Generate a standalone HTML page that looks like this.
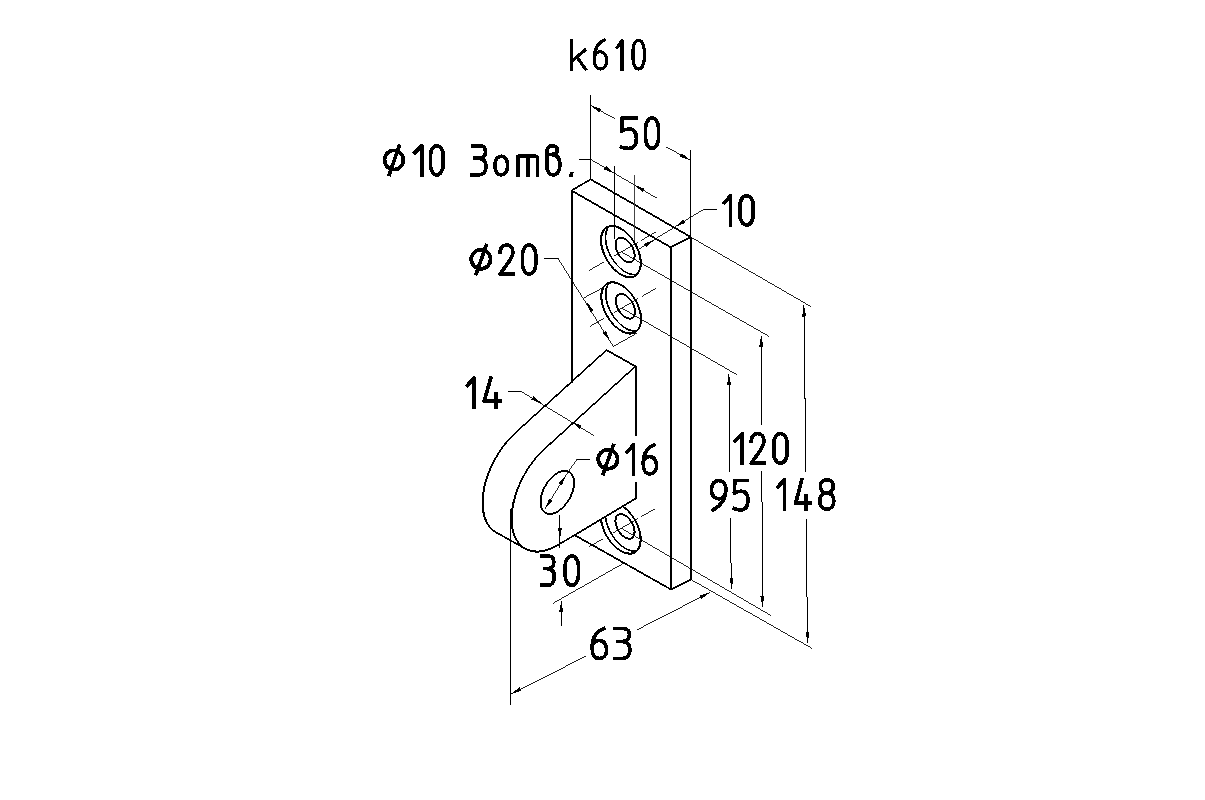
<!DOCTYPE html>
<html><head><meta charset="utf-8"><style>
html,body{margin:0;padding:0;background:#fff;width:1205px;height:800px;overflow:hidden}
svg{display:block}
</style></head><body>
<svg width="1205" height="800" viewBox="0 0 1205 800" shape-rendering="crispEdges">
<rect width="1205" height="800" fill="#fff"/>
<path d="M571.6,190.6 L590.6,179.3 L690.6,237" fill="none" stroke="#000" stroke-width="1.7" stroke-linejoin="round" stroke-linecap="round"/>
<path d="M690.6,237 L670.8,247.3" fill="none" stroke="#000" stroke-width="1.8" stroke-linejoin="round" stroke-linecap="round"/>
<path d="M670.8,247.3 L571.6,190.6" fill="none" stroke="#000" stroke-width="1.7" stroke-linejoin="round" stroke-linecap="round"/>
<path d="M571.6,190.6 L571.6,190.6" fill="none" stroke="#000" stroke-width="2.0" stroke-linejoin="round" stroke-linecap="round"/>
<line x1="571.6" y1="190.6" x2="571.6" y2="382.8" stroke="#000" stroke-width="2.00"/>
<line x1="670.9" y1="247.3" x2="671" y2="589.5" stroke="#000" stroke-width="2.00"/>
<line x1="690.6" y1="237" x2="690.8" y2="579.6" stroke="#000" stroke-width="2.00"/>
<path d="M575,535.3 L671,589.5" fill="none" stroke="#000" stroke-width="1.7" stroke-linejoin="round" stroke-linecap="round"/>
<path d="M671,589.5 L690.8,579.6" fill="none" stroke="#000" stroke-width="1.8" stroke-linejoin="round" stroke-linecap="round"/>
<clipPath id="c3"><path d="M540,555.9 L640,495.6 L700,495.6 L700,600 L540,600 Z"/></clipPath>
<g>
<path d="M640.73,263.05 L640.7,261.84 L640.62,260.59 L640.49,259.33 L640.3,258.04 L640.06,256.73" fill="none" stroke="#000" stroke-width="2.1" stroke-linejoin="round" stroke-linecap="round"/>
<path d="M640.06,256.73 L639.76,255.41 L639.41,254.08 L639.02,252.75 L638.57,251.41 L638.07,250.07" fill="none" stroke="#000" stroke-width="2.0" stroke-linejoin="round" stroke-linecap="round"/>
<path d="M638.07,250.07 L637.53,248.73 L636.94,247.4 L636.31,246.09 L635.64,244.79" fill="none" stroke="#000" stroke-width="1.9" stroke-linejoin="round" stroke-linecap="round"/>
<path d="M635.64,244.79 L634.92,243.5 L634.17,242.24 L633.38,241.01" fill="none" stroke="#000" stroke-width="1.8" stroke-linejoin="round" stroke-linecap="round"/>
<path d="M633.38,241.01 L632.56,239.8 L631.7,238.63 L630.82,237.49" fill="none" stroke="#000" stroke-width="1.7" stroke-linejoin="round" stroke-linecap="round"/>
<path d="M630.82,237.49 L629.9,236.39 L628.97,235.34" fill="none" stroke="#000" stroke-width="1.6" stroke-linejoin="round" stroke-linecap="round"/>
<path d="M628.97,235.34 L628.01,234.32 L627.03,233.36 L626.03,232.44" fill="none" stroke="#000" stroke-width="1.5" stroke-linejoin="round" stroke-linecap="round"/>
<path d="M626.03,232.44 L625.02,231.58 L624,230.77" fill="none" stroke="#000" stroke-width="1.6" stroke-linejoin="round" stroke-linecap="round"/>
<path d="M624,230.77 L622.97,230.02 L621.94,229.33" fill="none" stroke="#000" stroke-width="1.7" stroke-linejoin="round" stroke-linecap="round"/>
<path d="M621.94,229.33 L620.9,228.7 L619.86,228.13" fill="none" stroke="#000" stroke-width="1.8" stroke-linejoin="round" stroke-linecap="round"/>
<path d="M619.86,228.13 L618.83,227.63 L617.8,227.19" fill="none" stroke="#000" stroke-width="1.9" stroke-linejoin="round" stroke-linecap="round"/>
<path d="M617.8,227.19 L616.78,226.82 L615.77,226.52 L614.77,226.28" fill="none" stroke="#000" stroke-width="2.0" stroke-linejoin="round" stroke-linecap="round"/>
<path d="M614.77,226.28 L613.79,226.12 L612.83,226.02 L611.9,226 L610.98,226.04 L610.1,226.16 L609.24,226.34" fill="none" stroke="#000" stroke-width="2.1" stroke-linejoin="round" stroke-linecap="round"/>
<path d="M609.24,226.34 L608.42,226.6" fill="none" stroke="#000" stroke-width="2.0" stroke-linejoin="round" stroke-linecap="round"/>
<path d="M608.42,226.6 L607.63,226.92 L606.88,227.31" fill="none" stroke="#000" stroke-width="1.9" stroke-linejoin="round" stroke-linecap="round"/>
<path d="M606.88,227.31 L606.16,227.77" fill="none" stroke="#000" stroke-width="1.8" stroke-linejoin="round" stroke-linecap="round"/>
<path d="M606.16,227.77 L605.49,228.29" fill="none" stroke="#000" stroke-width="1.7" stroke-linejoin="round" stroke-linecap="round"/>
<path d="M605.49,228.29 L604.86,228.88" fill="none" stroke="#000" stroke-width="1.5" stroke-linejoin="round" stroke-linecap="round"/>
<path d="M604.86,228.88 L604.27,229.52" fill="none" stroke="#000" stroke-width="1.6" stroke-linejoin="round" stroke-linecap="round"/>
<path d="M604.27,229.52 L603.73,230.23" fill="none" stroke="#000" stroke-width="1.7" stroke-linejoin="round" stroke-linecap="round"/>
<path d="M603.73,230.23 L603.23,231 L602.78,231.83" fill="none" stroke="#000" stroke-width="1.8" stroke-linejoin="round" stroke-linecap="round"/>
<path d="M602.78,231.83 L602.39,232.7" fill="none" stroke="#000" stroke-width="1.9" stroke-linejoin="round" stroke-linecap="round"/>
<path d="M602.39,232.7 L602.04,233.63 L601.74,234.61 L601.5,235.64" fill="none" stroke="#000" stroke-width="2.0" stroke-linejoin="round" stroke-linecap="round"/>
<path d="M601.5,235.64 L601.31,236.71 L601.18,237.82 L601.1,238.97 L601.07,240.15 L601.1,241.36 L601.18,242.61 L601.31,243.87 L601.5,245.16 L601.74,246.47" fill="none" stroke="#000" stroke-width="2.1" stroke-linejoin="round" stroke-linecap="round"/>
<path d="M601.74,246.47 L602.04,247.79 L602.39,249.12 L602.78,250.45 L603.23,251.79 L603.73,253.13" fill="none" stroke="#000" stroke-width="2.0" stroke-linejoin="round" stroke-linecap="round"/>
<path d="M603.73,253.13 L604.27,254.47 L604.86,255.8 L605.49,257.11 L606.16,258.41" fill="none" stroke="#000" stroke-width="1.9" stroke-linejoin="round" stroke-linecap="round"/>
<path d="M606.16,258.41 L606.88,259.7 L607.63,260.96 L608.42,262.19" fill="none" stroke="#000" stroke-width="1.8" stroke-linejoin="round" stroke-linecap="round"/>
<path d="M608.42,262.19 L609.24,263.4 L610.1,264.57 L610.98,265.71" fill="none" stroke="#000" stroke-width="1.7" stroke-linejoin="round" stroke-linecap="round"/>
<path d="M610.98,265.71 L611.9,266.81 L612.83,267.86" fill="none" stroke="#000" stroke-width="1.6" stroke-linejoin="round" stroke-linecap="round"/>
<path d="M612.83,267.86 L613.79,268.88 L614.77,269.84 L615.77,270.76" fill="none" stroke="#000" stroke-width="1.5" stroke-linejoin="round" stroke-linecap="round"/>
<path d="M615.77,270.76 L616.78,271.62 L617.8,272.43" fill="none" stroke="#000" stroke-width="1.6" stroke-linejoin="round" stroke-linecap="round"/>
<path d="M617.8,272.43 L618.83,273.18 L619.86,273.87" fill="none" stroke="#000" stroke-width="1.7" stroke-linejoin="round" stroke-linecap="round"/>
<path d="M619.86,273.87 L620.9,274.5 L621.94,275.07" fill="none" stroke="#000" stroke-width="1.8" stroke-linejoin="round" stroke-linecap="round"/>
<path d="M621.94,275.07 L622.97,275.57 L624,276.01" fill="none" stroke="#000" stroke-width="1.9" stroke-linejoin="round" stroke-linecap="round"/>
<path d="M624,276.01 L625.02,276.38 L626.03,276.68 L627.03,276.92" fill="none" stroke="#000" stroke-width="2.0" stroke-linejoin="round" stroke-linecap="round"/>
<path d="M627.03,276.92 L628.01,277.08 L628.97,277.18 L629.9,277.2 L630.82,277.16 L631.7,277.04 L632.56,276.86" fill="none" stroke="#000" stroke-width="2.1" stroke-linejoin="round" stroke-linecap="round"/>
<path d="M632.56,276.86 L633.38,276.6" fill="none" stroke="#000" stroke-width="2.0" stroke-linejoin="round" stroke-linecap="round"/>
<path d="M633.38,276.6 L634.17,276.28 L634.92,275.89" fill="none" stroke="#000" stroke-width="1.9" stroke-linejoin="round" stroke-linecap="round"/>
<path d="M634.92,275.89 L635.64,275.43" fill="none" stroke="#000" stroke-width="1.8" stroke-linejoin="round" stroke-linecap="round"/>
<path d="M635.64,275.43 L636.31,274.91" fill="none" stroke="#000" stroke-width="1.7" stroke-linejoin="round" stroke-linecap="round"/>
<path d="M636.31,274.91 L636.94,274.32" fill="none" stroke="#000" stroke-width="1.5" stroke-linejoin="round" stroke-linecap="round"/>
<path d="M636.94,274.32 L637.53,273.68" fill="none" stroke="#000" stroke-width="1.6" stroke-linejoin="round" stroke-linecap="round"/>
<path d="M637.53,273.68 L638.07,272.97" fill="none" stroke="#000" stroke-width="1.7" stroke-linejoin="round" stroke-linecap="round"/>
<path d="M638.07,272.97 L638.57,272.2 L639.02,271.37" fill="none" stroke="#000" stroke-width="1.8" stroke-linejoin="round" stroke-linecap="round"/>
<path d="M639.02,271.37 L639.41,270.5" fill="none" stroke="#000" stroke-width="1.9" stroke-linejoin="round" stroke-linecap="round"/>
<path d="M639.41,270.5 L639.76,269.57 L640.06,268.59 L640.3,267.56" fill="none" stroke="#000" stroke-width="2.0" stroke-linejoin="round" stroke-linecap="round"/>
<path d="M640.3,267.56 L640.49,266.49 L640.62,265.38 L640.7,264.23 L640.73,263.05 L640.73,263.05" fill="none" stroke="#000" stroke-width="2.1" stroke-linejoin="round" stroke-linecap="round"/>
<path d="M608.96,226.59 L608.67,226.92 L608.39,227.27" fill="none" stroke="#000" stroke-width="1.4" stroke-linejoin="round" stroke-linecap="round"/>
<path d="M608.39,227.27 L608.13,227.63 L607.87,228.01 L607.63,228.4" fill="none" stroke="#000" stroke-width="1.5" stroke-linejoin="round" stroke-linecap="round"/>
<path d="M607.63,228.4 L607.4,228.81 L607.18,229.23 L606.98,229.66" fill="none" stroke="#000" stroke-width="1.6" stroke-linejoin="round" stroke-linecap="round"/>
<path d="M606.98,229.66 L606.79,230.1 L606.61,230.56 L606.44,231.03 L606.29,231.52 L606.14,232.01 L606.02,232.52" fill="none" stroke="#000" stroke-width="1.7" stroke-linejoin="round" stroke-linecap="round"/>
<path d="M606.02,232.52 L605.9,233.04 L605.8,233.57 L605.71,234.11 L605.64,234.66 L605.58,235.22 L605.53,235.79 L605.5,236.37 L605.48,236.95 L605.47,237.55 L605.48,238.15 L605.5,238.76 L605.53,239.38 L605.58,240.01 L605.64,240.64 L605.71,241.27 L605.8,241.91 L605.9,242.56 L606.02,243.21 L606.14,243.87 L606.29,244.53 L606.44,245.19" fill="none" stroke="#000" stroke-width="1.8" stroke-linejoin="round" stroke-linecap="round"/>
<path d="M606.44,245.19 L606.61,245.85 L606.79,246.52 L606.98,247.19 L607.18,247.85 L607.4,248.52 L607.63,249.19 L607.87,249.86 L608.13,250.53 L608.39,251.2 L608.67,251.87 L608.96,252.53" fill="none" stroke="#000" stroke-width="1.7" stroke-linejoin="round" stroke-linecap="round"/>
<path d="M608.96,252.53 L609.26,253.2 L609.57,253.86 L609.89,254.51 L610.22,255.17 L610.56,255.81 L610.91,256.46 L611.28,257.1 L611.65,257.73" fill="none" stroke="#000" stroke-width="1.6" stroke-linejoin="round" stroke-linecap="round"/>
<path d="M611.65,257.73 L612.03,258.36 L612.42,258.98 L612.82,259.59 L613.23,260.2 L613.64,260.8 L614.07,261.39" fill="none" stroke="#000" stroke-width="1.5" stroke-linejoin="round" stroke-linecap="round"/>
<path d="M614.07,261.39 L614.5,261.97 L614.94,262.54 L615.38,263.11 L615.84,263.66 L616.3,264.21 L616.76,264.74" fill="none" stroke="#000" stroke-width="1.4" stroke-linejoin="round" stroke-linecap="round"/>
<path d="M616.76,264.74 L617.23,265.26 L617.71,265.78 L618.19,266.28 L618.68,266.76 L619.17,267.24 L619.67,267.7 L620.17,268.16" fill="none" stroke="#000" stroke-width="1.3" stroke-linejoin="round" stroke-linecap="round"/>
<path d="M620.17,268.16 L620.67,268.59 L621.18,269.02 L621.69,269.43 L622.2,269.83 L622.71,270.21" fill="none" stroke="#000" stroke-width="1.4" stroke-linejoin="round" stroke-linecap="round"/>
<path d="M622.71,270.21 L623.23,270.58 L623.74,270.93 L624.26,271.27 L624.78,271.59 L625.3,271.9" fill="none" stroke="#000" stroke-width="1.5" stroke-linejoin="round" stroke-linecap="round"/>
<path d="M625.3,271.9 L625.82,272.19 L626.34,272.47 L626.86,272.73 L627.37,272.97 L627.89,273.2" fill="none" stroke="#000" stroke-width="1.6" stroke-linejoin="round" stroke-linecap="round"/>
<path d="M627.89,273.2 L628.4,273.41 L628.91,273.6 L629.42,273.78 L629.93,273.94 L630.43,274.08 L630.93,274.21" fill="none" stroke="#000" stroke-width="1.7" stroke-linejoin="round" stroke-linecap="round"/>
<path d="M630.93,274.21 L631.43,274.32 L631.92,274.41 L632.41,274.48 L632.89,274.54 L633.37,274.58 L633.84,274.6 L634.3,274.6 L634.76,274.59 L635.22,274.56 L635.66,274.51 L636.1,274.44 L636.53,274.36 L636.96,274.26" fill="none" stroke="#000" stroke-width="1.8" stroke-linejoin="round" stroke-linecap="round"/>
</g>
<path d="M634.63,255.5 L634.61,254.92 L634.57,254.32 L634.51,253.71 L634.42,253.09 L634.3,252.47 L634.16,251.83" fill="none" stroke="#000" stroke-width="2.0" stroke-linejoin="round" stroke-linecap="round"/>
<path d="M634.16,251.83 L633.99,251.19 L633.8,250.55 L633.59,249.91 L633.35,249.26 L633.09,248.62" fill="none" stroke="#000" stroke-width="1.9" stroke-linejoin="round" stroke-linecap="round"/>
<path d="M633.09,248.62 L632.81,247.98 L632.5,247.35 L632.18,246.73" fill="none" stroke="#000" stroke-width="1.8" stroke-linejoin="round" stroke-linecap="round"/>
<path d="M632.18,246.73 L631.84,246.11 L631.47,245.51 L631.09,244.91 L630.7,244.33" fill="none" stroke="#000" stroke-width="1.7" stroke-linejoin="round" stroke-linecap="round"/>
<path d="M630.7,244.33 L630.29,243.77 L629.86,243.22" fill="none" stroke="#000" stroke-width="1.6" stroke-linejoin="round" stroke-linecap="round"/>
<path d="M629.86,243.22 L629.42,242.7 L628.97,242.19 L628.51,241.7" fill="none" stroke="#000" stroke-width="1.5" stroke-linejoin="round" stroke-linecap="round"/>
<path d="M628.51,241.7 L628.04,241.24" fill="none" stroke="#000" stroke-width="1.4" stroke-linejoin="round" stroke-linecap="round"/>
<path d="M628.04,241.24 L627.57,240.8 L627.08,240.38" fill="none" stroke="#000" stroke-width="1.5" stroke-linejoin="round" stroke-linecap="round"/>
<path d="M627.08,240.38 L626.59,240 L626.1,239.64" fill="none" stroke="#000" stroke-width="1.6" stroke-linejoin="round" stroke-linecap="round"/>
<path d="M626.1,239.64 L625.6,239.3 L625.1,239" fill="none" stroke="#000" stroke-width="1.7" stroke-linejoin="round" stroke-linecap="round"/>
<path d="M625.1,239 L624.6,238.73 L624.1,238.49 L623.61,238.28" fill="none" stroke="#000" stroke-width="1.8" stroke-linejoin="round" stroke-linecap="round"/>
<path d="M623.61,238.28 L623.12,238.1 L622.63,237.95 L622.16,237.84" fill="none" stroke="#000" stroke-width="1.9" stroke-linejoin="round" stroke-linecap="round"/>
<path d="M622.16,237.84 L621.69,237.76 L621.23,237.71 L620.78,237.7 L620.34,237.72 L619.91,237.78 L619.5,237.87" fill="none" stroke="#000" stroke-width="2.0" stroke-linejoin="round" stroke-linecap="round"/>
<path d="M619.5,237.87 L619.11,237.99 L618.73,238.15" fill="none" stroke="#000" stroke-width="1.9" stroke-linejoin="round" stroke-linecap="round"/>
<path d="M618.73,238.15 L618.36,238.33" fill="none" stroke="#000" stroke-width="1.8" stroke-linejoin="round" stroke-linecap="round"/>
<path d="M618.36,238.33 L618.02,238.55" fill="none" stroke="#000" stroke-width="1.7" stroke-linejoin="round" stroke-linecap="round"/>
<path d="M618.02,238.55 L617.7,238.8" fill="none" stroke="#000" stroke-width="1.6" stroke-linejoin="round" stroke-linecap="round"/>
<path d="M617.7,238.8 L617.39,239.08 L617.11,239.4" fill="none" stroke="#000" stroke-width="1.5" stroke-linejoin="round" stroke-linecap="round"/>
<path d="M617.11,239.4 L616.85,239.74" fill="none" stroke="#000" stroke-width="1.6" stroke-linejoin="round" stroke-linecap="round"/>
<path d="M616.85,239.74 L616.61,240.11" fill="none" stroke="#000" stroke-width="1.7" stroke-linejoin="round" stroke-linecap="round"/>
<path d="M616.61,240.11 L616.4,240.5 L616.21,240.92" fill="none" stroke="#000" stroke-width="1.8" stroke-linejoin="round" stroke-linecap="round"/>
<path d="M616.21,240.92 L616.04,241.37 L615.9,241.84 L615.78,242.33" fill="none" stroke="#000" stroke-width="1.9" stroke-linejoin="round" stroke-linecap="round"/>
<path d="M615.78,242.33 L615.69,242.85 L615.63,243.38 L615.59,243.93 L615.57,244.5 L615.59,245.08 L615.63,245.68 L615.69,246.29 L615.78,246.91 L615.9,247.53 L616.04,248.17" fill="none" stroke="#000" stroke-width="2.0" stroke-linejoin="round" stroke-linecap="round"/>
<path d="M616.04,248.17 L616.21,248.81 L616.4,249.45 L616.61,250.09 L616.85,250.74 L617.11,251.38" fill="none" stroke="#000" stroke-width="1.9" stroke-linejoin="round" stroke-linecap="round"/>
<path d="M617.11,251.38 L617.39,252.02 L617.7,252.65 L618.02,253.27" fill="none" stroke="#000" stroke-width="1.8" stroke-linejoin="round" stroke-linecap="round"/>
<path d="M618.02,253.27 L618.36,253.89 L618.73,254.49 L619.11,255.09 L619.5,255.67" fill="none" stroke="#000" stroke-width="1.7" stroke-linejoin="round" stroke-linecap="round"/>
<path d="M619.5,255.67 L619.91,256.23 L620.34,256.78" fill="none" stroke="#000" stroke-width="1.6" stroke-linejoin="round" stroke-linecap="round"/>
<path d="M620.34,256.78 L620.78,257.3 L621.23,257.81 L621.69,258.3" fill="none" stroke="#000" stroke-width="1.5" stroke-linejoin="round" stroke-linecap="round"/>
<path d="M621.69,258.3 L622.16,258.76" fill="none" stroke="#000" stroke-width="1.4" stroke-linejoin="round" stroke-linecap="round"/>
<path d="M622.16,258.76 L622.63,259.2 L623.12,259.62" fill="none" stroke="#000" stroke-width="1.5" stroke-linejoin="round" stroke-linecap="round"/>
<path d="M623.12,259.62 L623.61,260 L624.1,260.36" fill="none" stroke="#000" stroke-width="1.6" stroke-linejoin="round" stroke-linecap="round"/>
<path d="M624.1,260.36 L624.6,260.7 L625.1,261" fill="none" stroke="#000" stroke-width="1.7" stroke-linejoin="round" stroke-linecap="round"/>
<path d="M625.1,261 L625.6,261.27 L626.1,261.51 L626.59,261.72" fill="none" stroke="#000" stroke-width="1.8" stroke-linejoin="round" stroke-linecap="round"/>
<path d="M626.59,261.72 L627.08,261.9 L627.57,262.05 L628.04,262.16" fill="none" stroke="#000" stroke-width="1.9" stroke-linejoin="round" stroke-linecap="round"/>
<path d="M628.04,262.16 L628.51,262.24 L628.97,262.29 L629.42,262.3 L629.86,262.28 L630.29,262.22 L630.7,262.13" fill="none" stroke="#000" stroke-width="2.0" stroke-linejoin="round" stroke-linecap="round"/>
<path d="M630.7,262.13 L631.09,262.01 L631.47,261.85" fill="none" stroke="#000" stroke-width="1.9" stroke-linejoin="round" stroke-linecap="round"/>
<path d="M631.47,261.85 L631.84,261.67" fill="none" stroke="#000" stroke-width="1.8" stroke-linejoin="round" stroke-linecap="round"/>
<path d="M631.84,261.67 L632.18,261.45" fill="none" stroke="#000" stroke-width="1.7" stroke-linejoin="round" stroke-linecap="round"/>
<path d="M632.18,261.45 L632.5,261.2" fill="none" stroke="#000" stroke-width="1.6" stroke-linejoin="round" stroke-linecap="round"/>
<path d="M632.5,261.2 L632.81,260.92 L633.09,260.6" fill="none" stroke="#000" stroke-width="1.5" stroke-linejoin="round" stroke-linecap="round"/>
<path d="M633.09,260.6 L633.35,260.26" fill="none" stroke="#000" stroke-width="1.6" stroke-linejoin="round" stroke-linecap="round"/>
<path d="M633.35,260.26 L633.59,259.89" fill="none" stroke="#000" stroke-width="1.7" stroke-linejoin="round" stroke-linecap="round"/>
<path d="M633.59,259.89 L633.8,259.5 L633.99,259.08" fill="none" stroke="#000" stroke-width="1.8" stroke-linejoin="round" stroke-linecap="round"/>
<path d="M633.99,259.08 L634.16,258.63 L634.3,258.16 L634.42,257.67" fill="none" stroke="#000" stroke-width="1.9" stroke-linejoin="round" stroke-linecap="round"/>
<path d="M634.42,257.67 L634.51,257.15 L634.57,256.62 L634.61,256.07 L634.63,255.5 L634.63,255.5" fill="none" stroke="#000" stroke-width="2.0" stroke-linejoin="round" stroke-linecap="round"/>
<line x1="589.29" y1="270.35" x2="603.58" y2="262.1" stroke="#000" stroke-width="0.87"/>
<line x1="613.54" y1="256.35" x2="637.79" y2="242.35" stroke="#000" stroke-width="0.87"/>
<line x1="641.25" y1="240.35" x2="655.54" y2="232.1" stroke="#000" stroke-width="0.87"/>
<g>
<path d="M641.03,319.35 L641,318.14 L640.92,316.89 L640.79,315.63 L640.6,314.34 L640.36,313.03" fill="none" stroke="#000" stroke-width="2.1" stroke-linejoin="round" stroke-linecap="round"/>
<path d="M640.36,313.03 L640.06,311.71 L639.71,310.38 L639.32,309.05 L638.87,307.71 L638.37,306.37" fill="none" stroke="#000" stroke-width="2.0" stroke-linejoin="round" stroke-linecap="round"/>
<path d="M638.37,306.37 L637.83,305.03 L637.24,303.7 L636.61,302.39 L635.94,301.09" fill="none" stroke="#000" stroke-width="1.9" stroke-linejoin="round" stroke-linecap="round"/>
<path d="M635.94,301.09 L635.22,299.8 L634.47,298.54 L633.68,297.31" fill="none" stroke="#000" stroke-width="1.8" stroke-linejoin="round" stroke-linecap="round"/>
<path d="M633.68,297.31 L632.86,296.1 L632,294.93 L631.12,293.79" fill="none" stroke="#000" stroke-width="1.7" stroke-linejoin="round" stroke-linecap="round"/>
<path d="M631.12,293.79 L630.2,292.69 L629.27,291.64" fill="none" stroke="#000" stroke-width="1.6" stroke-linejoin="round" stroke-linecap="round"/>
<path d="M629.27,291.64 L628.31,290.62 L627.33,289.66 L626.33,288.74" fill="none" stroke="#000" stroke-width="1.5" stroke-linejoin="round" stroke-linecap="round"/>
<path d="M626.33,288.74 L625.32,287.88 L624.3,287.07" fill="none" stroke="#000" stroke-width="1.6" stroke-linejoin="round" stroke-linecap="round"/>
<path d="M624.3,287.07 L623.27,286.32 L622.24,285.63" fill="none" stroke="#000" stroke-width="1.7" stroke-linejoin="round" stroke-linecap="round"/>
<path d="M622.24,285.63 L621.2,285 L620.16,284.43" fill="none" stroke="#000" stroke-width="1.8" stroke-linejoin="round" stroke-linecap="round"/>
<path d="M620.16,284.43 L619.13,283.93 L618.1,283.49" fill="none" stroke="#000" stroke-width="1.9" stroke-linejoin="round" stroke-linecap="round"/>
<path d="M618.1,283.49 L617.08,283.12 L616.07,282.82 L615.07,282.58" fill="none" stroke="#000" stroke-width="2.0" stroke-linejoin="round" stroke-linecap="round"/>
<path d="M615.07,282.58 L614.09,282.42 L613.13,282.32 L612.2,282.3 L611.28,282.34 L610.4,282.46 L609.54,282.64" fill="none" stroke="#000" stroke-width="2.1" stroke-linejoin="round" stroke-linecap="round"/>
<path d="M609.54,282.64 L608.72,282.9" fill="none" stroke="#000" stroke-width="2.0" stroke-linejoin="round" stroke-linecap="round"/>
<path d="M608.72,282.9 L607.93,283.22 L607.18,283.61" fill="none" stroke="#000" stroke-width="1.9" stroke-linejoin="round" stroke-linecap="round"/>
<path d="M607.18,283.61 L606.46,284.07" fill="none" stroke="#000" stroke-width="1.8" stroke-linejoin="round" stroke-linecap="round"/>
<path d="M606.46,284.07 L605.79,284.59" fill="none" stroke="#000" stroke-width="1.7" stroke-linejoin="round" stroke-linecap="round"/>
<path d="M605.79,284.59 L605.16,285.18" fill="none" stroke="#000" stroke-width="1.5" stroke-linejoin="round" stroke-linecap="round"/>
<path d="M605.16,285.18 L604.57,285.82" fill="none" stroke="#000" stroke-width="1.6" stroke-linejoin="round" stroke-linecap="round"/>
<path d="M604.57,285.82 L604.03,286.53" fill="none" stroke="#000" stroke-width="1.7" stroke-linejoin="round" stroke-linecap="round"/>
<path d="M604.03,286.53 L603.53,287.3 L603.08,288.13" fill="none" stroke="#000" stroke-width="1.8" stroke-linejoin="round" stroke-linecap="round"/>
<path d="M603.08,288.13 L602.69,289" fill="none" stroke="#000" stroke-width="1.9" stroke-linejoin="round" stroke-linecap="round"/>
<path d="M602.69,289 L602.34,289.93 L602.04,290.91 L601.8,291.94" fill="none" stroke="#000" stroke-width="2.0" stroke-linejoin="round" stroke-linecap="round"/>
<path d="M601.8,291.94 L601.61,293.01 L601.48,294.12 L601.4,295.27 L601.37,296.45 L601.4,297.66 L601.48,298.91 L601.61,300.17 L601.8,301.46 L602.04,302.77" fill="none" stroke="#000" stroke-width="2.1" stroke-linejoin="round" stroke-linecap="round"/>
<path d="M602.04,302.77 L602.34,304.09 L602.69,305.42 L603.08,306.75 L603.53,308.09 L604.03,309.43" fill="none" stroke="#000" stroke-width="2.0" stroke-linejoin="round" stroke-linecap="round"/>
<path d="M604.03,309.43 L604.57,310.77 L605.16,312.1 L605.79,313.41 L606.46,314.71" fill="none" stroke="#000" stroke-width="1.9" stroke-linejoin="round" stroke-linecap="round"/>
<path d="M606.46,314.71 L607.18,316 L607.93,317.26 L608.72,318.49" fill="none" stroke="#000" stroke-width="1.8" stroke-linejoin="round" stroke-linecap="round"/>
<path d="M608.72,318.49 L609.54,319.7 L610.4,320.87 L611.28,322.01" fill="none" stroke="#000" stroke-width="1.7" stroke-linejoin="round" stroke-linecap="round"/>
<path d="M611.28,322.01 L612.2,323.11 L613.13,324.16" fill="none" stroke="#000" stroke-width="1.6" stroke-linejoin="round" stroke-linecap="round"/>
<path d="M613.13,324.16 L614.09,325.18 L615.07,326.14 L616.07,327.06" fill="none" stroke="#000" stroke-width="1.5" stroke-linejoin="round" stroke-linecap="round"/>
<path d="M616.07,327.06 L617.08,327.92 L618.1,328.73" fill="none" stroke="#000" stroke-width="1.6" stroke-linejoin="round" stroke-linecap="round"/>
<path d="M618.1,328.73 L619.13,329.48 L620.16,330.17" fill="none" stroke="#000" stroke-width="1.7" stroke-linejoin="round" stroke-linecap="round"/>
<path d="M620.16,330.17 L621.2,330.8 L622.24,331.37" fill="none" stroke="#000" stroke-width="1.8" stroke-linejoin="round" stroke-linecap="round"/>
<path d="M622.24,331.37 L623.27,331.87 L624.3,332.31" fill="none" stroke="#000" stroke-width="1.9" stroke-linejoin="round" stroke-linecap="round"/>
<path d="M624.3,332.31 L625.32,332.68 L626.33,332.98 L627.33,333.22" fill="none" stroke="#000" stroke-width="2.0" stroke-linejoin="round" stroke-linecap="round"/>
<path d="M627.33,333.22 L628.31,333.38 L629.27,333.48 L630.2,333.5 L631.12,333.46 L632,333.34 L632.86,333.16" fill="none" stroke="#000" stroke-width="2.1" stroke-linejoin="round" stroke-linecap="round"/>
<path d="M632.86,333.16 L633.68,332.9" fill="none" stroke="#000" stroke-width="2.0" stroke-linejoin="round" stroke-linecap="round"/>
<path d="M633.68,332.9 L634.47,332.58 L635.22,332.19" fill="none" stroke="#000" stroke-width="1.9" stroke-linejoin="round" stroke-linecap="round"/>
<path d="M635.22,332.19 L635.94,331.73" fill="none" stroke="#000" stroke-width="1.8" stroke-linejoin="round" stroke-linecap="round"/>
<path d="M635.94,331.73 L636.61,331.21" fill="none" stroke="#000" stroke-width="1.7" stroke-linejoin="round" stroke-linecap="round"/>
<path d="M636.61,331.21 L637.24,330.62" fill="none" stroke="#000" stroke-width="1.5" stroke-linejoin="round" stroke-linecap="round"/>
<path d="M637.24,330.62 L637.83,329.98" fill="none" stroke="#000" stroke-width="1.6" stroke-linejoin="round" stroke-linecap="round"/>
<path d="M637.83,329.98 L638.37,329.27" fill="none" stroke="#000" stroke-width="1.7" stroke-linejoin="round" stroke-linecap="round"/>
<path d="M638.37,329.27 L638.87,328.5 L639.32,327.67" fill="none" stroke="#000" stroke-width="1.8" stroke-linejoin="round" stroke-linecap="round"/>
<path d="M639.32,327.67 L639.71,326.8" fill="none" stroke="#000" stroke-width="1.9" stroke-linejoin="round" stroke-linecap="round"/>
<path d="M639.71,326.8 L640.06,325.87 L640.36,324.89 L640.6,323.86" fill="none" stroke="#000" stroke-width="2.0" stroke-linejoin="round" stroke-linecap="round"/>
<path d="M640.6,323.86 L640.79,322.79 L640.92,321.68 L641,320.53 L641.03,319.35 L641.03,319.35" fill="none" stroke="#000" stroke-width="2.1" stroke-linejoin="round" stroke-linecap="round"/>
<path d="M609.26,282.89 L608.97,283.22 L608.69,283.57" fill="none" stroke="#000" stroke-width="1.4" stroke-linejoin="round" stroke-linecap="round"/>
<path d="M608.69,283.57 L608.43,283.93 L608.17,284.31 L607.93,284.7" fill="none" stroke="#000" stroke-width="1.5" stroke-linejoin="round" stroke-linecap="round"/>
<path d="M607.93,284.7 L607.7,285.11 L607.48,285.53 L607.28,285.96" fill="none" stroke="#000" stroke-width="1.6" stroke-linejoin="round" stroke-linecap="round"/>
<path d="M607.28,285.96 L607.09,286.4 L606.91,286.86 L606.74,287.33 L606.59,287.82 L606.44,288.31 L606.32,288.82" fill="none" stroke="#000" stroke-width="1.7" stroke-linejoin="round" stroke-linecap="round"/>
<path d="M606.32,288.82 L606.2,289.34 L606.1,289.87 L606.01,290.41 L605.94,290.96 L605.88,291.52 L605.83,292.09 L605.8,292.67 L605.78,293.25 L605.77,293.85 L605.78,294.45 L605.8,295.06 L605.83,295.68 L605.88,296.31 L605.94,296.94 L606.01,297.57 L606.1,298.21 L606.2,298.86 L606.32,299.51 L606.44,300.17 L606.59,300.83 L606.74,301.49" fill="none" stroke="#000" stroke-width="1.8" stroke-linejoin="round" stroke-linecap="round"/>
<path d="M606.74,301.49 L606.91,302.15 L607.09,302.82 L607.28,303.49 L607.48,304.15 L607.7,304.82 L607.93,305.49 L608.17,306.16 L608.43,306.83 L608.69,307.5 L608.97,308.17 L609.26,308.83" fill="none" stroke="#000" stroke-width="1.7" stroke-linejoin="round" stroke-linecap="round"/>
<path d="M609.26,308.83 L609.56,309.5 L609.87,310.16 L610.19,310.81 L610.52,311.47 L610.86,312.11 L611.21,312.76 L611.58,313.4 L611.95,314.03" fill="none" stroke="#000" stroke-width="1.6" stroke-linejoin="round" stroke-linecap="round"/>
<path d="M611.95,314.03 L612.33,314.66 L612.72,315.28 L613.12,315.89 L613.53,316.5 L613.94,317.1 L614.37,317.69" fill="none" stroke="#000" stroke-width="1.5" stroke-linejoin="round" stroke-linecap="round"/>
<path d="M614.37,317.69 L614.8,318.27 L615.24,318.84 L615.68,319.41 L616.14,319.96 L616.6,320.51 L617.06,321.04" fill="none" stroke="#000" stroke-width="1.4" stroke-linejoin="round" stroke-linecap="round"/>
<path d="M617.06,321.04 L617.53,321.56 L618.01,322.08 L618.49,322.58 L618.98,323.06 L619.47,323.54 L619.97,324 L620.47,324.46" fill="none" stroke="#000" stroke-width="1.3" stroke-linejoin="round" stroke-linecap="round"/>
<path d="M620.47,324.46 L620.97,324.89 L621.48,325.32 L621.99,325.73 L622.5,326.13 L623.01,326.51" fill="none" stroke="#000" stroke-width="1.4" stroke-linejoin="round" stroke-linecap="round"/>
<path d="M623.01,326.51 L623.53,326.88 L624.04,327.23 L624.56,327.57 L625.08,327.89 L625.6,328.2" fill="none" stroke="#000" stroke-width="1.5" stroke-linejoin="round" stroke-linecap="round"/>
<path d="M625.6,328.2 L626.12,328.49 L626.64,328.77 L627.16,329.03 L627.67,329.27 L628.19,329.5" fill="none" stroke="#000" stroke-width="1.6" stroke-linejoin="round" stroke-linecap="round"/>
<path d="M628.19,329.5 L628.7,329.71 L629.21,329.9 L629.72,330.08 L630.23,330.24 L630.73,330.38 L631.23,330.51" fill="none" stroke="#000" stroke-width="1.7" stroke-linejoin="round" stroke-linecap="round"/>
<path d="M631.23,330.51 L631.73,330.62 L632.22,330.71 L632.71,330.78 L633.19,330.84 L633.67,330.88 L634.14,330.9 L634.6,330.9 L635.06,330.89 L635.52,330.86 L635.96,330.81 L636.4,330.74 L636.83,330.66 L637.26,330.56" fill="none" stroke="#000" stroke-width="1.8" stroke-linejoin="round" stroke-linecap="round"/>
</g>
<path d="M634.93,311.8 L634.91,311.22 L634.87,310.62 L634.81,310.01 L634.72,309.39 L634.6,308.77 L634.46,308.13" fill="none" stroke="#000" stroke-width="2.0" stroke-linejoin="round" stroke-linecap="round"/>
<path d="M634.46,308.13 L634.29,307.49 L634.1,306.85 L633.89,306.21 L633.65,305.56 L633.39,304.92" fill="none" stroke="#000" stroke-width="1.9" stroke-linejoin="round" stroke-linecap="round"/>
<path d="M633.39,304.92 L633.11,304.28 L632.8,303.65 L632.48,303.03" fill="none" stroke="#000" stroke-width="1.8" stroke-linejoin="round" stroke-linecap="round"/>
<path d="M632.48,303.03 L632.14,302.41 L631.77,301.81 L631.39,301.21 L631,300.63" fill="none" stroke="#000" stroke-width="1.7" stroke-linejoin="round" stroke-linecap="round"/>
<path d="M631,300.63 L630.59,300.07 L630.16,299.52" fill="none" stroke="#000" stroke-width="1.6" stroke-linejoin="round" stroke-linecap="round"/>
<path d="M630.16,299.52 L629.72,299 L629.27,298.49 L628.81,298" fill="none" stroke="#000" stroke-width="1.5" stroke-linejoin="round" stroke-linecap="round"/>
<path d="M628.81,298 L628.34,297.54" fill="none" stroke="#000" stroke-width="1.4" stroke-linejoin="round" stroke-linecap="round"/>
<path d="M628.34,297.54 L627.87,297.1 L627.38,296.68" fill="none" stroke="#000" stroke-width="1.5" stroke-linejoin="round" stroke-linecap="round"/>
<path d="M627.38,296.68 L626.89,296.3 L626.4,295.94" fill="none" stroke="#000" stroke-width="1.6" stroke-linejoin="round" stroke-linecap="round"/>
<path d="M626.4,295.94 L625.9,295.6 L625.4,295.3" fill="none" stroke="#000" stroke-width="1.7" stroke-linejoin="round" stroke-linecap="round"/>
<path d="M625.4,295.3 L624.9,295.03 L624.4,294.79 L623.91,294.58" fill="none" stroke="#000" stroke-width="1.8" stroke-linejoin="round" stroke-linecap="round"/>
<path d="M623.91,294.58 L623.42,294.4 L622.93,294.25 L622.46,294.14" fill="none" stroke="#000" stroke-width="1.9" stroke-linejoin="round" stroke-linecap="round"/>
<path d="M622.46,294.14 L621.99,294.06 L621.53,294.01 L621.08,294 L620.64,294.02 L620.21,294.08 L619.8,294.17" fill="none" stroke="#000" stroke-width="2.0" stroke-linejoin="round" stroke-linecap="round"/>
<path d="M619.8,294.17 L619.41,294.29 L619.03,294.45" fill="none" stroke="#000" stroke-width="1.9" stroke-linejoin="round" stroke-linecap="round"/>
<path d="M619.03,294.45 L618.66,294.63" fill="none" stroke="#000" stroke-width="1.8" stroke-linejoin="round" stroke-linecap="round"/>
<path d="M618.66,294.63 L618.32,294.85" fill="none" stroke="#000" stroke-width="1.7" stroke-linejoin="round" stroke-linecap="round"/>
<path d="M618.32,294.85 L618,295.1" fill="none" stroke="#000" stroke-width="1.6" stroke-linejoin="round" stroke-linecap="round"/>
<path d="M618,295.1 L617.69,295.38 L617.41,295.7" fill="none" stroke="#000" stroke-width="1.5" stroke-linejoin="round" stroke-linecap="round"/>
<path d="M617.41,295.7 L617.15,296.04" fill="none" stroke="#000" stroke-width="1.6" stroke-linejoin="round" stroke-linecap="round"/>
<path d="M617.15,296.04 L616.91,296.41" fill="none" stroke="#000" stroke-width="1.7" stroke-linejoin="round" stroke-linecap="round"/>
<path d="M616.91,296.41 L616.7,296.8 L616.51,297.22" fill="none" stroke="#000" stroke-width="1.8" stroke-linejoin="round" stroke-linecap="round"/>
<path d="M616.51,297.22 L616.34,297.67 L616.2,298.14 L616.08,298.63" fill="none" stroke="#000" stroke-width="1.9" stroke-linejoin="round" stroke-linecap="round"/>
<path d="M616.08,298.63 L615.99,299.15 L615.93,299.68 L615.89,300.23 L615.87,300.8 L615.89,301.38 L615.93,301.98 L615.99,302.59 L616.08,303.21 L616.2,303.83 L616.34,304.47" fill="none" stroke="#000" stroke-width="2.0" stroke-linejoin="round" stroke-linecap="round"/>
<path d="M616.34,304.47 L616.51,305.11 L616.7,305.75 L616.91,306.39 L617.15,307.04 L617.41,307.68" fill="none" stroke="#000" stroke-width="1.9" stroke-linejoin="round" stroke-linecap="round"/>
<path d="M617.41,307.68 L617.69,308.32 L618,308.95 L618.32,309.57" fill="none" stroke="#000" stroke-width="1.8" stroke-linejoin="round" stroke-linecap="round"/>
<path d="M618.32,309.57 L618.66,310.19 L619.03,310.79 L619.41,311.39 L619.8,311.97" fill="none" stroke="#000" stroke-width="1.7" stroke-linejoin="round" stroke-linecap="round"/>
<path d="M619.8,311.97 L620.21,312.53 L620.64,313.08" fill="none" stroke="#000" stroke-width="1.6" stroke-linejoin="round" stroke-linecap="round"/>
<path d="M620.64,313.08 L621.08,313.6 L621.53,314.11 L621.99,314.6" fill="none" stroke="#000" stroke-width="1.5" stroke-linejoin="round" stroke-linecap="round"/>
<path d="M621.99,314.6 L622.46,315.06" fill="none" stroke="#000" stroke-width="1.4" stroke-linejoin="round" stroke-linecap="round"/>
<path d="M622.46,315.06 L622.93,315.5 L623.42,315.92" fill="none" stroke="#000" stroke-width="1.5" stroke-linejoin="round" stroke-linecap="round"/>
<path d="M623.42,315.92 L623.91,316.3 L624.4,316.66" fill="none" stroke="#000" stroke-width="1.6" stroke-linejoin="round" stroke-linecap="round"/>
<path d="M624.4,316.66 L624.9,317 L625.4,317.3" fill="none" stroke="#000" stroke-width="1.7" stroke-linejoin="round" stroke-linecap="round"/>
<path d="M625.4,317.3 L625.9,317.57 L626.4,317.81 L626.89,318.02" fill="none" stroke="#000" stroke-width="1.8" stroke-linejoin="round" stroke-linecap="round"/>
<path d="M626.89,318.02 L627.38,318.2 L627.87,318.35 L628.34,318.46" fill="none" stroke="#000" stroke-width="1.9" stroke-linejoin="round" stroke-linecap="round"/>
<path d="M628.34,318.46 L628.81,318.54 L629.27,318.59 L629.72,318.6 L630.16,318.58 L630.59,318.52 L631,318.43" fill="none" stroke="#000" stroke-width="2.0" stroke-linejoin="round" stroke-linecap="round"/>
<path d="M631,318.43 L631.39,318.31 L631.77,318.15" fill="none" stroke="#000" stroke-width="1.9" stroke-linejoin="round" stroke-linecap="round"/>
<path d="M631.77,318.15 L632.14,317.97" fill="none" stroke="#000" stroke-width="1.8" stroke-linejoin="round" stroke-linecap="round"/>
<path d="M632.14,317.97 L632.48,317.75" fill="none" stroke="#000" stroke-width="1.7" stroke-linejoin="round" stroke-linecap="round"/>
<path d="M632.48,317.75 L632.8,317.5" fill="none" stroke="#000" stroke-width="1.6" stroke-linejoin="round" stroke-linecap="round"/>
<path d="M632.8,317.5 L633.11,317.22 L633.39,316.9" fill="none" stroke="#000" stroke-width="1.5" stroke-linejoin="round" stroke-linecap="round"/>
<path d="M633.39,316.9 L633.65,316.56" fill="none" stroke="#000" stroke-width="1.6" stroke-linejoin="round" stroke-linecap="round"/>
<path d="M633.65,316.56 L633.89,316.19" fill="none" stroke="#000" stroke-width="1.7" stroke-linejoin="round" stroke-linecap="round"/>
<path d="M633.89,316.19 L634.1,315.8 L634.29,315.38" fill="none" stroke="#000" stroke-width="1.8" stroke-linejoin="round" stroke-linecap="round"/>
<path d="M634.29,315.38 L634.46,314.93 L634.6,314.46 L634.72,313.97" fill="none" stroke="#000" stroke-width="1.9" stroke-linejoin="round" stroke-linecap="round"/>
<path d="M634.72,313.97 L634.81,313.45 L634.87,312.92 L634.91,312.37 L634.93,311.8 L634.93,311.8" fill="none" stroke="#000" stroke-width="2.0" stroke-linejoin="round" stroke-linecap="round"/>
<line x1="589.59" y1="326.65" x2="603.88" y2="318.4" stroke="#000" stroke-width="0.87"/>
<line x1="613.84" y1="312.65" x2="638.09" y2="298.65" stroke="#000" stroke-width="0.87"/>
<line x1="641.55" y1="296.65" x2="655.84" y2="288.4" stroke="#000" stroke-width="0.87"/>
<g clip-path="url(#c3)">
<path d="M640.63,539.45 L640.6,538.24 L640.52,536.99 L640.39,535.73 L640.2,534.44 L639.96,533.13" fill="none" stroke="#000" stroke-width="2.1" stroke-linejoin="round" stroke-linecap="round"/>
<path d="M639.96,533.13 L639.66,531.81 L639.31,530.48 L638.92,529.15 L638.47,527.81 L637.97,526.47" fill="none" stroke="#000" stroke-width="2.0" stroke-linejoin="round" stroke-linecap="round"/>
<path d="M637.97,526.47 L637.43,525.13 L636.84,523.8 L636.21,522.49 L635.54,521.19" fill="none" stroke="#000" stroke-width="1.9" stroke-linejoin="round" stroke-linecap="round"/>
<path d="M635.54,521.19 L634.82,519.9 L634.07,518.64 L633.28,517.41" fill="none" stroke="#000" stroke-width="1.8" stroke-linejoin="round" stroke-linecap="round"/>
<path d="M633.28,517.41 L632.46,516.2 L631.6,515.03 L630.72,513.89" fill="none" stroke="#000" stroke-width="1.7" stroke-linejoin="round" stroke-linecap="round"/>
<path d="M630.72,513.89 L629.8,512.79 L628.87,511.74" fill="none" stroke="#000" stroke-width="1.6" stroke-linejoin="round" stroke-linecap="round"/>
<path d="M628.87,511.74 L627.91,510.72 L626.93,509.76 L625.93,508.84" fill="none" stroke="#000" stroke-width="1.5" stroke-linejoin="round" stroke-linecap="round"/>
<path d="M625.93,508.84 L624.92,507.98 L623.9,507.17" fill="none" stroke="#000" stroke-width="1.6" stroke-linejoin="round" stroke-linecap="round"/>
<path d="M623.9,507.17 L622.87,506.42 L621.84,505.73" fill="none" stroke="#000" stroke-width="1.7" stroke-linejoin="round" stroke-linecap="round"/>
<path d="M621.84,505.73 L620.8,505.1 L619.76,504.53" fill="none" stroke="#000" stroke-width="1.8" stroke-linejoin="round" stroke-linecap="round"/>
<path d="M619.76,504.53 L618.73,504.03 L617.7,503.59" fill="none" stroke="#000" stroke-width="1.9" stroke-linejoin="round" stroke-linecap="round"/>
<path d="M617.7,503.59 L616.68,503.22 L615.67,502.92 L614.67,502.68" fill="none" stroke="#000" stroke-width="2.0" stroke-linejoin="round" stroke-linecap="round"/>
<path d="M614.67,502.68 L613.69,502.52 L612.73,502.42 L611.8,502.4 L610.88,502.44 L610,502.56 L609.14,502.74" fill="none" stroke="#000" stroke-width="2.1" stroke-linejoin="round" stroke-linecap="round"/>
<path d="M609.14,502.74 L608.32,503" fill="none" stroke="#000" stroke-width="2.0" stroke-linejoin="round" stroke-linecap="round"/>
<path d="M608.32,503 L607.53,503.32 L606.78,503.71" fill="none" stroke="#000" stroke-width="1.9" stroke-linejoin="round" stroke-linecap="round"/>
<path d="M606.78,503.71 L606.06,504.17" fill="none" stroke="#000" stroke-width="1.8" stroke-linejoin="round" stroke-linecap="round"/>
<path d="M606.06,504.17 L605.39,504.69" fill="none" stroke="#000" stroke-width="1.7" stroke-linejoin="round" stroke-linecap="round"/>
<path d="M605.39,504.69 L604.76,505.28" fill="none" stroke="#000" stroke-width="1.5" stroke-linejoin="round" stroke-linecap="round"/>
<path d="M604.76,505.28 L604.17,505.92" fill="none" stroke="#000" stroke-width="1.6" stroke-linejoin="round" stroke-linecap="round"/>
<path d="M604.17,505.92 L603.63,506.63" fill="none" stroke="#000" stroke-width="1.7" stroke-linejoin="round" stroke-linecap="round"/>
<path d="M603.63,506.63 L603.13,507.4 L602.68,508.23" fill="none" stroke="#000" stroke-width="1.8" stroke-linejoin="round" stroke-linecap="round"/>
<path d="M602.68,508.23 L602.29,509.1" fill="none" stroke="#000" stroke-width="1.9" stroke-linejoin="round" stroke-linecap="round"/>
<path d="M602.29,509.1 L601.94,510.03 L601.64,511.01 L601.4,512.04" fill="none" stroke="#000" stroke-width="2.0" stroke-linejoin="round" stroke-linecap="round"/>
<path d="M601.4,512.04 L601.21,513.11 L601.08,514.22 L601,515.37 L600.97,516.55 L601,517.76 L601.08,519.01 L601.21,520.27 L601.4,521.56 L601.64,522.87" fill="none" stroke="#000" stroke-width="2.1" stroke-linejoin="round" stroke-linecap="round"/>
<path d="M601.64,522.87 L601.94,524.19 L602.29,525.52 L602.68,526.85 L603.13,528.19 L603.63,529.53" fill="none" stroke="#000" stroke-width="2.0" stroke-linejoin="round" stroke-linecap="round"/>
<path d="M603.63,529.53 L604.17,530.87 L604.76,532.2 L605.39,533.51 L606.06,534.81" fill="none" stroke="#000" stroke-width="1.9" stroke-linejoin="round" stroke-linecap="round"/>
<path d="M606.06,534.81 L606.78,536.1 L607.53,537.36 L608.32,538.59" fill="none" stroke="#000" stroke-width="1.8" stroke-linejoin="round" stroke-linecap="round"/>
<path d="M608.32,538.59 L609.14,539.8 L610,540.97 L610.88,542.11" fill="none" stroke="#000" stroke-width="1.7" stroke-linejoin="round" stroke-linecap="round"/>
<path d="M610.88,542.11 L611.8,543.21 L612.73,544.26" fill="none" stroke="#000" stroke-width="1.6" stroke-linejoin="round" stroke-linecap="round"/>
<path d="M612.73,544.26 L613.69,545.28 L614.67,546.24 L615.67,547.16" fill="none" stroke="#000" stroke-width="1.5" stroke-linejoin="round" stroke-linecap="round"/>
<path d="M615.67,547.16 L616.68,548.02 L617.7,548.83" fill="none" stroke="#000" stroke-width="1.6" stroke-linejoin="round" stroke-linecap="round"/>
<path d="M617.7,548.83 L618.73,549.58 L619.76,550.27" fill="none" stroke="#000" stroke-width="1.7" stroke-linejoin="round" stroke-linecap="round"/>
<path d="M619.76,550.27 L620.8,550.9 L621.84,551.47" fill="none" stroke="#000" stroke-width="1.8" stroke-linejoin="round" stroke-linecap="round"/>
<path d="M621.84,551.47 L622.87,551.97 L623.9,552.41" fill="none" stroke="#000" stroke-width="1.9" stroke-linejoin="round" stroke-linecap="round"/>
<path d="M623.9,552.41 L624.92,552.78 L625.93,553.08 L626.93,553.32" fill="none" stroke="#000" stroke-width="2.0" stroke-linejoin="round" stroke-linecap="round"/>
<path d="M626.93,553.32 L627.91,553.48 L628.87,553.58 L629.8,553.6 L630.72,553.56 L631.6,553.44 L632.46,553.26" fill="none" stroke="#000" stroke-width="2.1" stroke-linejoin="round" stroke-linecap="round"/>
<path d="M632.46,553.26 L633.28,553" fill="none" stroke="#000" stroke-width="2.0" stroke-linejoin="round" stroke-linecap="round"/>
<path d="M633.28,553 L634.07,552.68 L634.82,552.29" fill="none" stroke="#000" stroke-width="1.9" stroke-linejoin="round" stroke-linecap="round"/>
<path d="M634.82,552.29 L635.54,551.83" fill="none" stroke="#000" stroke-width="1.8" stroke-linejoin="round" stroke-linecap="round"/>
<path d="M635.54,551.83 L636.21,551.31" fill="none" stroke="#000" stroke-width="1.7" stroke-linejoin="round" stroke-linecap="round"/>
<path d="M636.21,551.31 L636.84,550.72" fill="none" stroke="#000" stroke-width="1.5" stroke-linejoin="round" stroke-linecap="round"/>
<path d="M636.84,550.72 L637.43,550.08" fill="none" stroke="#000" stroke-width="1.6" stroke-linejoin="round" stroke-linecap="round"/>
<path d="M637.43,550.08 L637.97,549.37" fill="none" stroke="#000" stroke-width="1.7" stroke-linejoin="round" stroke-linecap="round"/>
<path d="M637.97,549.37 L638.47,548.6 L638.92,547.77" fill="none" stroke="#000" stroke-width="1.8" stroke-linejoin="round" stroke-linecap="round"/>
<path d="M638.92,547.77 L639.31,546.9" fill="none" stroke="#000" stroke-width="1.9" stroke-linejoin="round" stroke-linecap="round"/>
<path d="M639.31,546.9 L639.66,545.97 L639.96,544.99 L640.2,543.96" fill="none" stroke="#000" stroke-width="2.0" stroke-linejoin="round" stroke-linecap="round"/>
<path d="M640.2,543.96 L640.39,542.89 L640.52,541.78 L640.6,540.63 L640.63,539.45 L640.63,539.45" fill="none" stroke="#000" stroke-width="2.1" stroke-linejoin="round" stroke-linecap="round"/>
<path d="M608.86,502.99 L608.57,503.32 L608.29,503.67" fill="none" stroke="#000" stroke-width="1.4" stroke-linejoin="round" stroke-linecap="round"/>
<path d="M608.29,503.67 L608.03,504.03 L607.77,504.41 L607.53,504.8" fill="none" stroke="#000" stroke-width="1.5" stroke-linejoin="round" stroke-linecap="round"/>
<path d="M607.53,504.8 L607.3,505.21 L607.08,505.63 L606.88,506.06" fill="none" stroke="#000" stroke-width="1.6" stroke-linejoin="round" stroke-linecap="round"/>
<path d="M606.88,506.06 L606.69,506.5 L606.51,506.96 L606.34,507.43 L606.19,507.92 L606.04,508.41 L605.92,508.92" fill="none" stroke="#000" stroke-width="1.7" stroke-linejoin="round" stroke-linecap="round"/>
<path d="M605.92,508.92 L605.8,509.44 L605.7,509.97 L605.61,510.51 L605.54,511.06 L605.48,511.62 L605.43,512.19 L605.4,512.77 L605.38,513.35 L605.37,513.95 L605.38,514.55 L605.4,515.16 L605.43,515.78 L605.48,516.41 L605.54,517.04 L605.61,517.67 L605.7,518.31 L605.8,518.96 L605.92,519.61 L606.04,520.27 L606.19,520.93 L606.34,521.59" fill="none" stroke="#000" stroke-width="1.8" stroke-linejoin="round" stroke-linecap="round"/>
<path d="M606.34,521.59 L606.51,522.25 L606.69,522.92 L606.88,523.59 L607.08,524.25 L607.3,524.92 L607.53,525.59 L607.77,526.26 L608.03,526.93 L608.29,527.6 L608.57,528.27 L608.86,528.93" fill="none" stroke="#000" stroke-width="1.7" stroke-linejoin="round" stroke-linecap="round"/>
<path d="M608.86,528.93 L609.16,529.6 L609.47,530.26 L609.79,530.91 L610.12,531.57 L610.46,532.21 L610.81,532.86 L611.18,533.5 L611.55,534.13" fill="none" stroke="#000" stroke-width="1.6" stroke-linejoin="round" stroke-linecap="round"/>
<path d="M611.55,534.13 L611.93,534.76 L612.32,535.38 L612.72,535.99 L613.13,536.6 L613.54,537.2 L613.97,537.79" fill="none" stroke="#000" stroke-width="1.5" stroke-linejoin="round" stroke-linecap="round"/>
<path d="M613.97,537.79 L614.4,538.37 L614.84,538.94 L615.28,539.51 L615.74,540.06 L616.2,540.61 L616.66,541.14" fill="none" stroke="#000" stroke-width="1.4" stroke-linejoin="round" stroke-linecap="round"/>
<path d="M616.66,541.14 L617.13,541.66 L617.61,542.18 L618.09,542.68 L618.58,543.16 L619.07,543.64 L619.57,544.1 L620.07,544.56" fill="none" stroke="#000" stroke-width="1.3" stroke-linejoin="round" stroke-linecap="round"/>
<path d="M620.07,544.56 L620.57,544.99 L621.08,545.42 L621.59,545.83 L622.1,546.23 L622.61,546.61" fill="none" stroke="#000" stroke-width="1.4" stroke-linejoin="round" stroke-linecap="round"/>
<path d="M622.61,546.61 L623.13,546.98 L623.64,547.33 L624.16,547.67 L624.68,547.99 L625.2,548.3" fill="none" stroke="#000" stroke-width="1.5" stroke-linejoin="round" stroke-linecap="round"/>
<path d="M625.2,548.3 L625.72,548.59 L626.24,548.87 L626.76,549.13 L627.27,549.37 L627.79,549.6" fill="none" stroke="#000" stroke-width="1.6" stroke-linejoin="round" stroke-linecap="round"/>
<path d="M627.79,549.6 L628.3,549.81 L628.81,550 L629.32,550.18 L629.83,550.34 L630.33,550.48 L630.83,550.61" fill="none" stroke="#000" stroke-width="1.7" stroke-linejoin="round" stroke-linecap="round"/>
<path d="M630.83,550.61 L631.33,550.72 L631.82,550.81 L632.31,550.88 L632.79,550.94 L633.27,550.98 L633.74,551 L634.2,551 L634.66,550.99 L635.12,550.96 L635.56,550.91 L636,550.84 L636.43,550.76 L636.86,550.66" fill="none" stroke="#000" stroke-width="1.8" stroke-linejoin="round" stroke-linecap="round"/>
</g>
<path d="M634.53,531.9 L634.51,531.32 L634.47,530.72 L634.41,530.11 L634.32,529.49 L634.2,528.87 L634.06,528.23" fill="none" stroke="#000" stroke-width="2.0" stroke-linejoin="round" stroke-linecap="round"/>
<path d="M634.06,528.23 L633.89,527.59 L633.7,526.95 L633.49,526.31 L633.25,525.66 L632.99,525.02" fill="none" stroke="#000" stroke-width="1.9" stroke-linejoin="round" stroke-linecap="round"/>
<path d="M632.99,525.02 L632.71,524.38 L632.4,523.75 L632.08,523.13" fill="none" stroke="#000" stroke-width="1.8" stroke-linejoin="round" stroke-linecap="round"/>
<path d="M632.08,523.13 L631.74,522.51 L631.37,521.91 L630.99,521.31 L630.6,520.73" fill="none" stroke="#000" stroke-width="1.7" stroke-linejoin="round" stroke-linecap="round"/>
<path d="M630.6,520.73 L630.19,520.17 L629.76,519.62" fill="none" stroke="#000" stroke-width="1.6" stroke-linejoin="round" stroke-linecap="round"/>
<path d="M629.76,519.62 L629.32,519.1 L628.87,518.59 L628.41,518.1" fill="none" stroke="#000" stroke-width="1.5" stroke-linejoin="round" stroke-linecap="round"/>
<path d="M628.41,518.1 L627.94,517.64" fill="none" stroke="#000" stroke-width="1.4" stroke-linejoin="round" stroke-linecap="round"/>
<path d="M627.94,517.64 L627.47,517.2 L626.98,516.78" fill="none" stroke="#000" stroke-width="1.5" stroke-linejoin="round" stroke-linecap="round"/>
<path d="M626.98,516.78 L626.49,516.4 L626,516.04" fill="none" stroke="#000" stroke-width="1.6" stroke-linejoin="round" stroke-linecap="round"/>
<path d="M626,516.04 L625.5,515.7 L625,515.4" fill="none" stroke="#000" stroke-width="1.7" stroke-linejoin="round" stroke-linecap="round"/>
<path d="M625,515.4 L624.5,515.13 L624,514.89 L623.51,514.68" fill="none" stroke="#000" stroke-width="1.8" stroke-linejoin="round" stroke-linecap="round"/>
<path d="M623.51,514.68 L623.02,514.5 L622.53,514.35 L622.06,514.24" fill="none" stroke="#000" stroke-width="1.9" stroke-linejoin="round" stroke-linecap="round"/>
<path d="M622.06,514.24 L621.59,514.16 L621.13,514.11 L620.68,514.1 L620.24,514.12 L619.81,514.18 L619.4,514.27" fill="none" stroke="#000" stroke-width="2.0" stroke-linejoin="round" stroke-linecap="round"/>
<path d="M619.4,514.27 L619.01,514.39 L618.63,514.55" fill="none" stroke="#000" stroke-width="1.9" stroke-linejoin="round" stroke-linecap="round"/>
<path d="M618.63,514.55 L618.26,514.73" fill="none" stroke="#000" stroke-width="1.8" stroke-linejoin="round" stroke-linecap="round"/>
<path d="M618.26,514.73 L617.92,514.95" fill="none" stroke="#000" stroke-width="1.7" stroke-linejoin="round" stroke-linecap="round"/>
<path d="M617.92,514.95 L617.6,515.2" fill="none" stroke="#000" stroke-width="1.6" stroke-linejoin="round" stroke-linecap="round"/>
<path d="M617.6,515.2 L617.29,515.48 L617.01,515.8" fill="none" stroke="#000" stroke-width="1.5" stroke-linejoin="round" stroke-linecap="round"/>
<path d="M617.01,515.8 L616.75,516.14" fill="none" stroke="#000" stroke-width="1.6" stroke-linejoin="round" stroke-linecap="round"/>
<path d="M616.75,516.14 L616.51,516.51" fill="none" stroke="#000" stroke-width="1.7" stroke-linejoin="round" stroke-linecap="round"/>
<path d="M616.51,516.51 L616.3,516.9 L616.11,517.32" fill="none" stroke="#000" stroke-width="1.8" stroke-linejoin="round" stroke-linecap="round"/>
<path d="M616.11,517.32 L615.94,517.77 L615.8,518.24 L615.68,518.73" fill="none" stroke="#000" stroke-width="1.9" stroke-linejoin="round" stroke-linecap="round"/>
<path d="M615.68,518.73 L615.59,519.25 L615.53,519.78 L615.49,520.33 L615.47,520.9 L615.49,521.48 L615.53,522.08 L615.59,522.69 L615.68,523.31 L615.8,523.93 L615.94,524.57" fill="none" stroke="#000" stroke-width="2.0" stroke-linejoin="round" stroke-linecap="round"/>
<path d="M615.94,524.57 L616.11,525.21 L616.3,525.85 L616.51,526.49 L616.75,527.14 L617.01,527.78" fill="none" stroke="#000" stroke-width="1.9" stroke-linejoin="round" stroke-linecap="round"/>
<path d="M617.01,527.78 L617.29,528.42 L617.6,529.05 L617.92,529.67" fill="none" stroke="#000" stroke-width="1.8" stroke-linejoin="round" stroke-linecap="round"/>
<path d="M617.92,529.67 L618.26,530.29 L618.63,530.89 L619.01,531.49 L619.4,532.07" fill="none" stroke="#000" stroke-width="1.7" stroke-linejoin="round" stroke-linecap="round"/>
<path d="M619.4,532.07 L619.81,532.63 L620.24,533.18" fill="none" stroke="#000" stroke-width="1.6" stroke-linejoin="round" stroke-linecap="round"/>
<path d="M620.24,533.18 L620.68,533.7 L621.13,534.21 L621.59,534.7" fill="none" stroke="#000" stroke-width="1.5" stroke-linejoin="round" stroke-linecap="round"/>
<path d="M621.59,534.7 L622.06,535.16" fill="none" stroke="#000" stroke-width="1.4" stroke-linejoin="round" stroke-linecap="round"/>
<path d="M622.06,535.16 L622.53,535.6 L623.02,536.02" fill="none" stroke="#000" stroke-width="1.5" stroke-linejoin="round" stroke-linecap="round"/>
<path d="M623.02,536.02 L623.51,536.4 L624,536.76" fill="none" stroke="#000" stroke-width="1.6" stroke-linejoin="round" stroke-linecap="round"/>
<path d="M624,536.76 L624.5,537.1 L625,537.4" fill="none" stroke="#000" stroke-width="1.7" stroke-linejoin="round" stroke-linecap="round"/>
<path d="M625,537.4 L625.5,537.67 L626,537.91 L626.49,538.12" fill="none" stroke="#000" stroke-width="1.8" stroke-linejoin="round" stroke-linecap="round"/>
<path d="M626.49,538.12 L626.98,538.3 L627.47,538.45 L627.94,538.56" fill="none" stroke="#000" stroke-width="1.9" stroke-linejoin="round" stroke-linecap="round"/>
<path d="M627.94,538.56 L628.41,538.64 L628.87,538.69 L629.32,538.7 L629.76,538.68 L630.19,538.62 L630.6,538.53" fill="none" stroke="#000" stroke-width="2.0" stroke-linejoin="round" stroke-linecap="round"/>
<path d="M630.6,538.53 L630.99,538.41 L631.37,538.25" fill="none" stroke="#000" stroke-width="1.9" stroke-linejoin="round" stroke-linecap="round"/>
<path d="M631.37,538.25 L631.74,538.07" fill="none" stroke="#000" stroke-width="1.8" stroke-linejoin="round" stroke-linecap="round"/>
<path d="M631.74,538.07 L632.08,537.85" fill="none" stroke="#000" stroke-width="1.7" stroke-linejoin="round" stroke-linecap="round"/>
<path d="M632.08,537.85 L632.4,537.6" fill="none" stroke="#000" stroke-width="1.6" stroke-linejoin="round" stroke-linecap="round"/>
<path d="M632.4,537.6 L632.71,537.32 L632.99,537" fill="none" stroke="#000" stroke-width="1.5" stroke-linejoin="round" stroke-linecap="round"/>
<path d="M632.99,537 L633.25,536.66" fill="none" stroke="#000" stroke-width="1.6" stroke-linejoin="round" stroke-linecap="round"/>
<path d="M633.25,536.66 L633.49,536.29" fill="none" stroke="#000" stroke-width="1.7" stroke-linejoin="round" stroke-linecap="round"/>
<path d="M633.49,536.29 L633.7,535.9 L633.89,535.48" fill="none" stroke="#000" stroke-width="1.8" stroke-linejoin="round" stroke-linecap="round"/>
<path d="M633.89,535.48 L634.06,535.03 L634.2,534.56 L634.32,534.07" fill="none" stroke="#000" stroke-width="1.9" stroke-linejoin="round" stroke-linecap="round"/>
<path d="M634.32,534.07 L634.41,533.55 L634.47,533.02 L634.51,532.47 L634.53,531.9 L634.53,531.9" fill="none" stroke="#000" stroke-width="2.0" stroke-linejoin="round" stroke-linecap="round"/>
<line x1="589.19" y1="546.75" x2="603.48" y2="538.5" stroke="#000" stroke-width="0.87"/>
<line x1="613.44" y1="532.75" x2="637.69" y2="518.75" stroke="#000" stroke-width="0.87"/>
<line x1="641.15" y1="516.75" x2="655.44" y2="508.5" stroke="#000" stroke-width="0.87"/>
<path d="M635.5,366.3 L544.85,448.66 L543.59,449.82" fill="none" stroke="#000" stroke-width="1.5" stroke-linejoin="round" stroke-linecap="round"/>
<path d="M543.59,449.82 L542.35,451.02 L541.11,452.26 L539.89,453.52" fill="none" stroke="#000" stroke-width="1.4" stroke-linejoin="round" stroke-linecap="round"/>
<path d="M539.89,453.52 L538.69,454.82 L537.49,456.15 L536.32,457.51 L535.16,458.9" fill="none" stroke="#000" stroke-width="1.5" stroke-linejoin="round" stroke-linecap="round"/>
<path d="M535.16,458.9 L534.03,460.31 L532.91,461.75 L531.81,463.22 L530.73,464.71 L529.67,466.22" fill="none" stroke="#000" stroke-width="1.6" stroke-linejoin="round" stroke-linecap="round"/>
<path d="M529.67,466.22 L528.64,467.75 L527.63,469.3 L526.65,470.88 L525.69,472.47 L524.75,474.07 L523.85,475.69" fill="none" stroke="#000" stroke-width="1.7" stroke-linejoin="round" stroke-linecap="round"/>
<path d="M523.85,475.69 L522.97,477.33 L522.11,478.98 L521.29,480.63 L520.5,482.3 L519.74,483.98 L519.01,485.66 L518.31,487.35" fill="none" stroke="#000" stroke-width="1.8" stroke-linejoin="round" stroke-linecap="round"/>
<path d="M518.31,487.35 L517.64,489.04 L517,490.73 L516.4,492.43 L515.83,494.13 L515.3,495.82 L514.8,497.51 L514.34,499.2 L513.91,500.88 L513.51,502.55" fill="none" stroke="#000" stroke-width="1.9" stroke-linejoin="round" stroke-linecap="round"/>
<path d="M513.51,502.55 L513.16,504.22 L512.84,505.88 L512.55,507.52 L512.3,509.15 L512.09,510.77 L511.92,512.38 L511.79,513.96 L511.69,515.53 L511.63,517.08 L511.6,518.61 L511.62,520.12 L511.67,521.61 L511.76,523.07 L511.88,524.51 L512.05,525.92 L512.25,527.3 L512.49,528.66 L512.76,529.98" fill="none" stroke="#000" stroke-width="2.0" stroke-linejoin="round" stroke-linecap="round"/>
<path d="M512.76,529.98 L513.08,531.27 L513.42,532.53 L513.81,533.76 L514.23,534.96 L514.69,536.12" fill="none" stroke="#000" stroke-width="1.9" stroke-linejoin="round" stroke-linecap="round"/>
<path d="M514.69,536.12 L515.18,537.24 L515.7,538.33 L516.26,539.38" fill="none" stroke="#000" stroke-width="1.8" stroke-linejoin="round" stroke-linecap="round"/>
<path d="M516.26,539.38 L516.85,540.39 L517.48,541.36" fill="none" stroke="#000" stroke-width="1.7" stroke-linejoin="round" stroke-linecap="round"/>
<path d="M517.48,541.36 L518.14,542.29 L518.83,543.18" fill="none" stroke="#000" stroke-width="1.6" stroke-linejoin="round" stroke-linecap="round"/>
<path d="M518.83,543.18 L519.56,544.03 L520.31,544.83" fill="none" stroke="#000" stroke-width="1.5" stroke-linejoin="round" stroke-linecap="round"/>
<path d="M520.31,544.83 L521.1,545.6" fill="none" stroke="#000" stroke-width="1.4" stroke-linejoin="round" stroke-linecap="round"/>
<path d="M521.1,545.6 L521.91,546.32" fill="none" stroke="#000" stroke-width="1.5" stroke-linejoin="round" stroke-linecap="round"/>
<path d="M521.91,546.32 L522.76,546.99 L523.63,547.62" fill="none" stroke="#000" stroke-width="1.6" stroke-linejoin="round" stroke-linecap="round"/>
<path d="M523.63,547.62 L524.53,548.21 L525.46,548.75" fill="none" stroke="#000" stroke-width="1.7" stroke-linejoin="round" stroke-linecap="round"/>
<path d="M525.46,548.75 L526.41,549.24 L527.39,549.69" fill="none" stroke="#000" stroke-width="1.8" stroke-linejoin="round" stroke-linecap="round"/>
<path d="M527.39,549.69 L528.39,550.08 L529.42,550.44 L530.47,550.74 L531.54,551" fill="none" stroke="#000" stroke-width="1.9" stroke-linejoin="round" stroke-linecap="round"/>
<path d="M531.54,551 L532.64,551.21 L533.75,551.37 L534.88,551.48 L536.04,551.54 L537.21,551.55 L538.39,551.52 L539.6,551.44 L540.81,551.31 L542.04,551.13 L543.29,550.9 L544.54,550.63" fill="none" stroke="#000" stroke-width="2.0" stroke-linejoin="round" stroke-linecap="round"/>
<path d="M544.54,550.63 L545.81,550.3 L547.08,549.93 L548.37,549.51 L549.66,549.05 L550.95,548.54" fill="none" stroke="#000" stroke-width="1.9" stroke-linejoin="round" stroke-linecap="round"/>
<path d="M550.95,548.54 L552.26,547.98 L553.56,547.38 L554.87,546.73 L556.19,546.04" fill="none" stroke="#000" stroke-width="1.8" stroke-linejoin="round" stroke-linecap="round"/>
<path d="M556.19,546.04 L557.5,545.3 L635.5,498.6" fill="none" stroke="#000" stroke-width="1.7" stroke-linejoin="round" stroke-linecap="round"/>
<line x1="635.5" y1="366.3" x2="635.5" y2="436" stroke="#000" stroke-width="2.00"/>
<line x1="635.5" y1="482" x2="635.5" y2="498.6" stroke="#000" stroke-width="2.00"/>
<line x1="606.5" y1="350.1" x2="635.5" y2="366.3" stroke="#000" stroke-width="1.75"/>
<path d="M606.5,350.1 L515.85,432.46 L514.71,433.51" fill="none" stroke="#000" stroke-width="1.5" stroke-linejoin="round" stroke-linecap="round"/>
<path d="M514.71,433.51 L513.58,434.6 L512.45,435.71 L511.34,436.85" fill="none" stroke="#000" stroke-width="1.4" stroke-linejoin="round" stroke-linecap="round"/>
<path d="M511.34,436.85 L510.24,438.01 L509.16,439.2 L508.08,440.42 L507.02,441.66 L505.98,442.92" fill="none" stroke="#000" stroke-width="1.5" stroke-linejoin="round" stroke-linecap="round"/>
<path d="M505.98,442.92 L504.95,444.21 L503.93,445.52 L502.93,446.84 L501.95,448.19 L500.99,449.56" fill="none" stroke="#000" stroke-width="1.6" stroke-linejoin="round" stroke-linecap="round"/>
<path d="M500.99,449.56 L500.05,450.94 L499.12,452.34 L498.21,453.76 L497.33,455.19 L496.47,456.64 L495.62,458.1 L494.8,459.57" fill="none" stroke="#000" stroke-width="1.7" stroke-linejoin="round" stroke-linecap="round"/>
<path d="M494.8,459.57 L494.01,461.05 L493.23,462.55 L492.48,464.05 L491.75,465.56 L491.05,467.08 L490.38,468.6 L489.73,470.13" fill="none" stroke="#000" stroke-width="1.8" stroke-linejoin="round" stroke-linecap="round"/>
<path d="M489.73,470.13 L489.1,471.66 L488.5,473.2 L487.93,474.73 L487.39,476.27 L486.87,477.81 L486.38,479.35 L485.93,480.88 L485.49,482.41 L485.09,483.94 L484.72,485.46" fill="none" stroke="#000" stroke-width="1.9" stroke-linejoin="round" stroke-linecap="round"/>
<path d="M484.72,485.46 L484.38,486.98 L484.06,488.49 L483.78,489.99 L483.53,491.48 L483.3,492.96 L483.11,494.43 L482.95,495.88 L482.82,497.33 L482.72,498.75 L482.65,500.17 L482.61,501.57 L482.6,502.95 L482.63,504.31 L482.68,505.65 L482.77,506.98 L482.88,508.28 L483.03,509.56 L483.21,510.82 L483.41,512.05 L483.65,513.26 L483.92,514.45" fill="none" stroke="#000" stroke-width="2.0" stroke-linejoin="round" stroke-linecap="round"/>
<path d="M483.92,514.45 L484.22,515.61 L484.55,516.74 L484.9,517.85 L485.29,518.92 L485.71,519.97" fill="none" stroke="#000" stroke-width="1.9" stroke-linejoin="round" stroke-linecap="round"/>
<path d="M485.71,519.97 L486.15,520.99 L486.63,521.98 L487.13,522.94" fill="none" stroke="#000" stroke-width="1.8" stroke-linejoin="round" stroke-linecap="round"/>
<path d="M487.13,522.94 L487.66,523.87 L488.22,524.76 L488.8,525.62" fill="none" stroke="#000" stroke-width="1.7" stroke-linejoin="round" stroke-linecap="round"/>
<path d="M488.8,525.62 L489.41,526.45 L490.05,527.24" fill="none" stroke="#000" stroke-width="1.6" stroke-linejoin="round" stroke-linecap="round"/>
<path d="M490.05,527.24 L490.71,528" fill="none" stroke="#000" stroke-width="1.5" stroke-linejoin="round" stroke-linecap="round"/>
<path d="M490.71,528 L491.4,528.73 L492.12,529.42" fill="none" stroke="#000" stroke-width="1.4" stroke-linejoin="round" stroke-linecap="round"/>
<path d="M492.12,529.42 L492.86,530.07" fill="none" stroke="#000" stroke-width="1.5" stroke-linejoin="round" stroke-linecap="round"/>
<path d="M492.86,530.07 L493.62,530.69 L494.4,531.27" fill="none" stroke="#000" stroke-width="1.6" stroke-linejoin="round" stroke-linecap="round"/>
<path d="M494.4,531.27 L495.21,531.81 L496.05,532.31 L525.05,548.51" fill="none" stroke="#000" stroke-width="1.7" stroke-linejoin="round" stroke-linecap="round"/>
<path d="M574.01,482.75 L573.99,481.75 L573.92,480.79 L573.81,479.85 L573.65,478.95" fill="none" stroke="#000" stroke-width="2.0" stroke-linejoin="round" stroke-linecap="round"/>
<path d="M573.65,478.95 L573.44,478.08 L573.2,477.26 L572.9,476.47" fill="none" stroke="#000" stroke-width="1.9" stroke-linejoin="round" stroke-linecap="round"/>
<path d="M572.9,476.47 L572.57,475.73 L572.19,475.04" fill="none" stroke="#000" stroke-width="1.8" stroke-linejoin="round" stroke-linecap="round"/>
<path d="M572.19,475.04 L571.77,474.39" fill="none" stroke="#000" stroke-width="1.7" stroke-linejoin="round" stroke-linecap="round"/>
<path d="M571.77,474.39 L571.32,473.8" fill="none" stroke="#000" stroke-width="1.6" stroke-linejoin="round" stroke-linecap="round"/>
<path d="M571.32,473.8 L570.82,473.25 L570.29,472.75" fill="none" stroke="#000" stroke-width="1.5" stroke-linejoin="round" stroke-linecap="round"/>
<path d="M570.29,472.75 L569.72,472.31" fill="none" stroke="#000" stroke-width="1.6" stroke-linejoin="round" stroke-linecap="round"/>
<path d="M569.72,472.31 L569.12,471.93" fill="none" stroke="#000" stroke-width="1.7" stroke-linejoin="round" stroke-linecap="round"/>
<path d="M569.12,471.93 L568.48,471.6" fill="none" stroke="#000" stroke-width="1.8" stroke-linejoin="round" stroke-linecap="round"/>
<path d="M568.48,471.6 L567.82,471.33 L567.12,471.11" fill="none" stroke="#000" stroke-width="1.9" stroke-linejoin="round" stroke-linecap="round"/>
<path d="M567.12,471.11 L566.4,470.96 L565.66,470.86 L564.89,470.82 L564.1,470.84 L563.29,470.92 L562.46,471.06" fill="none" stroke="#000" stroke-width="2.0" stroke-linejoin="round" stroke-linecap="round"/>
<path d="M562.46,471.06 L561.63,471.26 L560.77,471.52 L559.91,471.83" fill="none" stroke="#000" stroke-width="1.9" stroke-linejoin="round" stroke-linecap="round"/>
<path d="M559.91,471.83 L559.05,472.2 L558.17,472.62 L557.3,473.1" fill="none" stroke="#000" stroke-width="1.8" stroke-linejoin="round" stroke-linecap="round"/>
<path d="M557.3,473.1 L556.43,473.63 L555.55,474.21" fill="none" stroke="#000" stroke-width="1.7" stroke-linejoin="round" stroke-linecap="round"/>
<path d="M555.55,474.21 L554.69,474.85 L553.83,475.53" fill="none" stroke="#000" stroke-width="1.6" stroke-linejoin="round" stroke-linecap="round"/>
<path d="M553.83,475.53 L552.97,476.26 L552.14,477.03" fill="none" stroke="#000" stroke-width="1.5" stroke-linejoin="round" stroke-linecap="round"/>
<path d="M552.14,477.03 L551.31,477.84" fill="none" stroke="#000" stroke-width="1.4" stroke-linejoin="round" stroke-linecap="round"/>
<path d="M551.31,477.84 L550.5,478.69 L549.71,479.58 L548.94,480.51" fill="none" stroke="#000" stroke-width="1.5" stroke-linejoin="round" stroke-linecap="round"/>
<path d="M548.94,480.51 L548.2,481.47 L547.48,482.46" fill="none" stroke="#000" stroke-width="1.6" stroke-linejoin="round" stroke-linecap="round"/>
<path d="M547.48,482.46 L546.78,483.47 L546.12,484.51 L545.48,485.58 L544.88,486.66" fill="none" stroke="#000" stroke-width="1.7" stroke-linejoin="round" stroke-linecap="round"/>
<path d="M544.88,486.66 L544.31,487.75 L543.78,488.86 L543.28,489.98" fill="none" stroke="#000" stroke-width="1.8" stroke-linejoin="round" stroke-linecap="round"/>
<path d="M543.28,489.98 L542.83,491.11 L542.41,492.24 L542.03,493.37 L541.7,494.49 L541.4,495.61" fill="none" stroke="#000" stroke-width="1.9" stroke-linejoin="round" stroke-linecap="round"/>
<path d="M541.4,495.61 L541.16,496.73 L540.95,497.83 L540.79,498.91 L540.68,499.98 L540.61,501.03 L540.59,502.05 L540.61,503.05 L540.68,504.01 L540.79,504.95 L540.95,505.85" fill="none" stroke="#000" stroke-width="2.0" stroke-linejoin="round" stroke-linecap="round"/>
<path d="M540.95,505.85 L541.16,506.72 L541.4,507.54 L541.7,508.33" fill="none" stroke="#000" stroke-width="1.9" stroke-linejoin="round" stroke-linecap="round"/>
<path d="M541.7,508.33 L542.03,509.07 L542.41,509.76" fill="none" stroke="#000" stroke-width="1.8" stroke-linejoin="round" stroke-linecap="round"/>
<path d="M542.41,509.76 L542.83,510.41" fill="none" stroke="#000" stroke-width="1.7" stroke-linejoin="round" stroke-linecap="round"/>
<path d="M542.83,510.41 L543.28,511" fill="none" stroke="#000" stroke-width="1.6" stroke-linejoin="round" stroke-linecap="round"/>
<path d="M543.28,511 L543.78,511.55 L544.31,512.05" fill="none" stroke="#000" stroke-width="1.5" stroke-linejoin="round" stroke-linecap="round"/>
<path d="M544.31,512.05 L544.88,512.49" fill="none" stroke="#000" stroke-width="1.6" stroke-linejoin="round" stroke-linecap="round"/>
<path d="M544.88,512.49 L545.48,512.87" fill="none" stroke="#000" stroke-width="1.7" stroke-linejoin="round" stroke-linecap="round"/>
<path d="M545.48,512.87 L546.12,513.2" fill="none" stroke="#000" stroke-width="1.8" stroke-linejoin="round" stroke-linecap="round"/>
<path d="M546.12,513.2 L546.78,513.47 L547.48,513.69" fill="none" stroke="#000" stroke-width="1.9" stroke-linejoin="round" stroke-linecap="round"/>
<path d="M547.48,513.69 L548.2,513.84 L548.94,513.94 L549.71,513.98 L550.5,513.96 L551.31,513.88 L552.14,513.74" fill="none" stroke="#000" stroke-width="2.0" stroke-linejoin="round" stroke-linecap="round"/>
<path d="M552.14,513.74 L552.97,513.54 L553.83,513.28 L554.69,512.97" fill="none" stroke="#000" stroke-width="1.9" stroke-linejoin="round" stroke-linecap="round"/>
<path d="M554.69,512.97 L555.55,512.6 L556.43,512.18 L557.3,511.7" fill="none" stroke="#000" stroke-width="1.8" stroke-linejoin="round" stroke-linecap="round"/>
<path d="M557.3,511.7 L558.17,511.17 L559.05,510.59" fill="none" stroke="#000" stroke-width="1.7" stroke-linejoin="round" stroke-linecap="round"/>
<path d="M559.05,510.59 L559.91,509.95 L560.77,509.27" fill="none" stroke="#000" stroke-width="1.6" stroke-linejoin="round" stroke-linecap="round"/>
<path d="M560.77,509.27 L561.63,508.54 L562.46,507.77" fill="none" stroke="#000" stroke-width="1.5" stroke-linejoin="round" stroke-linecap="round"/>
<path d="M562.46,507.77 L563.29,506.96" fill="none" stroke="#000" stroke-width="1.4" stroke-linejoin="round" stroke-linecap="round"/>
<path d="M563.29,506.96 L564.1,506.11 L564.89,505.22 L565.66,504.29" fill="none" stroke="#000" stroke-width="1.5" stroke-linejoin="round" stroke-linecap="round"/>
<path d="M565.66,504.29 L566.4,503.33 L567.12,502.34" fill="none" stroke="#000" stroke-width="1.6" stroke-linejoin="round" stroke-linecap="round"/>
<path d="M567.12,502.34 L567.82,501.33 L568.48,500.29 L569.12,499.22 L569.72,498.14" fill="none" stroke="#000" stroke-width="1.7" stroke-linejoin="round" stroke-linecap="round"/>
<path d="M569.72,498.14 L570.29,497.05 L570.82,495.94 L571.32,494.82" fill="none" stroke="#000" stroke-width="1.8" stroke-linejoin="round" stroke-linecap="round"/>
<path d="M571.32,494.82 L571.77,493.69 L572.19,492.56 L572.57,491.43 L572.9,490.31 L573.2,489.19" fill="none" stroke="#000" stroke-width="1.9" stroke-linejoin="round" stroke-linecap="round"/>
<path d="M573.2,489.19 L573.44,488.07 L573.65,486.97 L573.81,485.89 L573.92,484.82 L573.99,483.77 L574.01,482.75 L574.01,482.75" fill="none" stroke="#000" stroke-width="2.0" stroke-linejoin="round" stroke-linecap="round"/>
<line x1="590.6" y1="95" x2="590.6" y2="179.3" stroke="#000" stroke-width="1.00"/>
<line x1="690.5" y1="150" x2="690.5" y2="237" stroke="#000" stroke-width="1.00"/>
<line x1="590.6" y1="105.3" x2="614.6" y2="118.6" stroke="#000" stroke-width="0.87"/>
<path d="M590.6,105.3 L599.25,112.38 L601.19,108.88 Z" fill="#000"/>
<line x1="666.2" y1="146.9" x2="690.5" y2="160.2" stroke="#000" stroke-width="0.88"/>
<path d="M690.5,160.2 L681.81,153.16 L679.89,156.67 Z" fill="#000"/>
<line x1="579" y1="159.2" x2="590.4" y2="159.2" stroke="#000" stroke-width="1.00"/>
<line x1="590.4" y1="159.2" x2="656.9" y2="198.2" stroke="#000" stroke-width="0.86"/>
<path d="M614.4,173.3 L605.93,166 L603.9,169.45 Z" fill="#000"/>
<path d="M634.1,184.8 L642.57,192.1 L644.6,188.65 Z" fill="#000"/>
<line x1="614.5" y1="165.8" x2="614.5" y2="238.5" stroke="#000" stroke-width="1.00"/>
<line x1="634.1" y1="175.4" x2="634.1" y2="241" stroke="#444" stroke-width="1.00"/>
<line x1="717.4" y1="209.4" x2="703.5" y2="209.4" stroke="#000" stroke-width="1.00"/>
<line x1="703.5" y1="209.4" x2="638.3" y2="249.4" stroke="#000" stroke-width="0.85"/>
<path d="M675.2,227 L685.6,222.89 L683.48,219.49 Z" fill="#000"/>
<path d="M654.5,239.8 L644.02,243.69 L646.06,247.13 Z" fill="#000"/>
<line x1="544.1" y1="258.3" x2="557.9" y2="258.3" stroke="#000" stroke-width="1.00"/>
<line x1="557.9" y1="258.3" x2="613.3" y2="346.5" stroke="#000" stroke-width="0.85"/>
<line x1="584" y1="297.9" x2="602.4" y2="287.9" stroke="#000" stroke-width="0.88"/>
<line x1="613.3" y1="346.5" x2="636.5" y2="333.4" stroke="#000" stroke-width="0.87"/>
<path d="M586.3,301.8 L590.28,312.25 L593.7,310.18 Z" fill="#000"/>
<path d="M610,341.2 L606.05,330.74 L602.62,332.8 Z" fill="#000"/>
<line x1="690.6" y1="237" x2="810.6" y2="306.4" stroke="#000" stroke-width="0.87"/>
<line x1="620.9" y1="251.6" x2="769" y2="336.4" stroke="#000" stroke-width="0.87"/>
<line x1="621.6" y1="308" x2="737" y2="374.8" stroke="#000" stroke-width="0.87"/>
<line x1="620.8" y1="528" x2="771" y2="615.6" stroke="#000" stroke-width="0.86"/>
<line x1="691" y1="579.6" x2="812" y2="648.4" stroke="#000" stroke-width="0.87"/>
<line x1="803.9" y1="305.5" x2="805.9" y2="471.6" stroke="#000" stroke-width="1.00"/>
<line x1="806" y1="517" x2="807.6" y2="643" stroke="#000" stroke-width="1.00"/>
<path d="M803.9,305.5 L802.17,316.55 L806.17,316.45 Z" fill="#000"/>
<path d="M807.6,643 L809.5,631.98 L805.5,632.02 Z" fill="#000"/>
<line x1="761.2" y1="335.6" x2="761.9" y2="424.8" stroke="#000" stroke-width="1.00"/>
<line x1="761.9" y1="470.9" x2="762.4" y2="607" stroke="#000" stroke-width="1.00"/>
<path d="M761.2,335.6 L759.29,346.62 L763.29,346.58 Z" fill="#000"/>
<path d="M762.4,607 L764.36,595.99 L760.36,596.01 Z" fill="#000"/>
<line x1="728.9" y1="373.6" x2="730" y2="471.6" stroke="#000" stroke-width="1.00"/>
<line x1="730" y1="517.6" x2="731.6" y2="589" stroke="#000" stroke-width="1.00"/>
<path d="M728.9,373.6 L727.03,384.62 L731.02,384.58 Z" fill="#000"/>
<path d="M731.6,589 L733.56,577.99 L729.56,578.01 Z" fill="#000"/>
<line x1="507.9" y1="391.4" x2="521" y2="391.4" stroke="#000" stroke-width="1.00"/>
<line x1="521" y1="391.4" x2="594.2" y2="435.8" stroke="#000" stroke-width="0.86"/>
<path d="M541.9,403.5 L533.38,396.26 L531.38,399.72 Z" fill="#000"/>
<path d="M571.5,421.7 L579.79,429.2 L581.9,425.81 Z" fill="#000"/>
<line x1="545" y1="509" x2="566" y2="475" stroke="#000" stroke-width="0.85"/>
<path d="M545,509 L552.48,500.69 L549.08,498.59 Z" fill="#000"/>
<path d="M566,475 L558.52,483.31 L561.92,485.41 Z" fill="#000"/>
<line x1="566" y1="475" x2="577" y2="459.3" stroke="#000" stroke-width="0.82"/>
<line x1="577" y1="459.3" x2="589.8" y2="459.3" stroke="#000" stroke-width="1.00"/>
<line x1="559.9" y1="514.9" x2="559.9" y2="548" stroke="#000" stroke-width="1.00"/>
<path d="M559.9,539 L561.9,528 L557.9,528 Z" fill="#000"/>
<line x1="561.2" y1="601" x2="561.2" y2="625.6" stroke="#000" stroke-width="1.00"/>
<path d="M561.2,601 L559.2,612 L563.2,612 Z" fill="#000"/>
<line x1="552.9" y1="603.4" x2="622.5" y2="563.9" stroke="#000" stroke-width="0.87"/>
<line x1="510.6" y1="509" x2="510.6" y2="705.1" stroke="#000" stroke-width="1.00"/>
<line x1="510.6" y1="694.1" x2="585.8" y2="656.3" stroke="#000" stroke-width="0.89"/>
<path d="M510.6,694.1 L521.33,690.95 L519.53,687.37 Z" fill="#000"/>
<line x1="637.3" y1="629.7" x2="710" y2="592.4" stroke="#000" stroke-width="0.89"/>
<path d="M710,592.4 L699.3,595.64 L701.13,599.2 Z" fill="#000"/>
<path transform="translate(571.7,69) scale(1.1500,0.9897)" d="M0,-29 V0 M0,-8 L11.5,-19 M4.5,-12 L12,0" fill="none" stroke="#000" stroke-width="3.2" stroke-linecap="square" stroke-linejoin="round" vector-effect="non-scaling-stroke"/>
<path transform="translate(594.1,69) scale(0.9538,0.9897)" d="M10.5,-29 C5,-27 0.3,-21 0.3,-12 V-9 C0.3,-3 3,0 6.5,0 C10,0 13,-3 13,-8.5 C13,-14 10,-17.5 6.5,-17.5 C3.5,-17.5 1.5,-15.5 0.5,-13" fill="none" stroke="#000" stroke-width="3.2" stroke-linecap="square" stroke-linejoin="round" vector-effect="non-scaling-stroke"/>
<path transform="translate(617.3,69) scale(0.6857,0.9897)" d="M0,-22 L7,-29 V0" fill="none" stroke="#000" stroke-width="3.2" stroke-linecap="square" stroke-linejoin="round" vector-effect="non-scaling-stroke"/>
<path transform="translate(633,69) scale(0.8615,0.9897)" d="M0,-19 V-10 A6.5,10 0 0 0 13,-10 V-19 A6.5,10 0 0 0 0,-19 Z" fill="none" stroke="#000" stroke-width="3.2" stroke-linecap="square" stroke-linejoin="round" vector-effect="non-scaling-stroke"/>
<path transform="translate(621,148.4) scale(1.1407,1.0448)" d="M13,-29 H1 L0.5,-16.5 C2.5,-18 4.5,-18.5 7,-18.5 C11,-18.5 13.5,-15.5 13.5,-9.5 C13.5,-3.5 11,0 7,0 C4,0 2,-0.5 0.3,-1.2" fill="none" stroke="#000" stroke-width="3.7" stroke-linecap="square" stroke-linejoin="round" vector-effect="non-scaling-stroke"/>
<path transform="translate(645.5,148.4) scale(1.0077,1.0448)" d="M0,-19 V-10 A6.5,10 0 0 0 13,-10 V-19 A6.5,10 0 0 0 0,-19 Z" fill="none" stroke="#000" stroke-width="3.7" stroke-linecap="square" stroke-linejoin="round" vector-effect="non-scaling-stroke"/>
<path transform="translate(384.1,174.9) scale(0.9650,1.0069)" d="M10.2,-14.8 m-9.7,0 a9.7,9.6 0 1 0 19.4,0 a9.7,9.6 0 1 0 -19.4,0 M5.5,-0.5 L15.5,-28.5" fill="none" stroke="#000" stroke-width="3.7" stroke-linecap="square" stroke-linejoin="round" vector-effect="non-scaling-stroke"/>
<path transform="translate(414.7,174.9) scale(1.0286,1.0069)" d="M0,-22 L7,-29 V0" fill="none" stroke="#000" stroke-width="3.7" stroke-linecap="square" stroke-linejoin="round" vector-effect="non-scaling-stroke"/>
<path transform="translate(430.4,174.9) scale(0.9846,1.0069)" d="M0,-19 V-10 A6.5,10 0 0 0 13,-10 V-19 A6.5,10 0 0 0 0,-19 Z" fill="none" stroke="#000" stroke-width="3.7" stroke-linecap="square" stroke-linejoin="round" vector-effect="non-scaling-stroke"/>
<path transform="translate(472.3,174.9) scale(0.9786,1.0069)" d="M0.5,-29 H8 C12,-29 13.5,-26 13.5,-23 C13.5,-19 11,-16.6 7,-16.6 H3 M7,-16.6 C11.5,-16.6 14,-13.5 14,-8.5 C14,-3 11,0 7,0 H0" fill="none" stroke="#000" stroke-width="3.7" stroke-linecap="square" stroke-linejoin="round" vector-effect="non-scaling-stroke"/>
<path transform="translate(495.1,174.9) scale(0.9919,1.0069)" d="M0,-11.5 V-7 A6.2,7 0 0 0 12.4,-7 V-11.5 A6.2,7 0 0 0 0,-11.5 Z" fill="none" stroke="#000" stroke-width="3.7" stroke-linecap="square" stroke-linejoin="round" vector-effect="non-scaling-stroke"/>
<path transform="translate(517.9,174.9) scale(1.0051,1.0069)" d="M0,0 V-18.5 H17 C18.5,-18.5 19.5,-17.5 19.5,-16 V0 M9.8,-18.5 V0" fill="none" stroke="#000" stroke-width="3.7" stroke-linecap="square" stroke-linejoin="round" vector-effect="non-scaling-stroke"/>
<path transform="translate(546.9,174.9) scale(1.0156,1.0069)" d="M0,-8 V-23 C0,-27 2.3,-29 5.3,-29 C8.3,-29 10.3,-27 10.3,-24.5 C10.3,-21.5 8.5,-20.3 3.8,-20.3 C9.5,-20.3 12.8,-17 12.8,-10 C12.8,-3.5 10,0 6.4,0 C3,0 0,-3 0,-8" fill="none" stroke="#000" stroke-width="3.7" stroke-linecap="square" stroke-linejoin="round" vector-effect="non-scaling-stroke"/>
<path transform="translate(570.5,174.9) scale(1.0069,1.0069)" d="M0.9,-1.0 L0.6,0.3" fill="none" stroke="#000" stroke-width="3.7" stroke-linecap="square" stroke-linejoin="round" vector-effect="non-scaling-stroke"/>
<path transform="translate(724.5,225) scale(0.8571,1.0103)" d="M0,-22 L7,-29 V0" fill="none" stroke="#000" stroke-width="3.7" stroke-linecap="square" stroke-linejoin="round" vector-effect="non-scaling-stroke"/>
<path transform="translate(739.9,225) scale(1.0308,1.0103)" d="M0,-19 V-10 A6.5,10 0 0 0 13,-10 V-19 A6.5,10 0 0 0 0,-19 Z" fill="none" stroke="#000" stroke-width="3.7" stroke-linecap="square" stroke-linejoin="round" vector-effect="non-scaling-stroke"/>
<path transform="translate(470.8,274) scale(0.9900,0.9966)" d="M10.2,-14.8 m-9.7,0 a9.7,9.6 0 1 0 19.4,0 a9.7,9.6 0 1 0 -19.4,0 M5.5,-0.5 L15.5,-28.5" fill="none" stroke="#000" stroke-width="3.7" stroke-linecap="square" stroke-linejoin="round" vector-effect="non-scaling-stroke"/>
<path transform="translate(500,274) scale(0.9926,0.9966)" d="M0,-22 C0,-26.5 3,-29 6.5,-29 C10,-29 13,-26.5 13,-22 C13,-17 9.5,-13 0,0 H13.5" fill="none" stroke="#000" stroke-width="3.7" stroke-linecap="square" stroke-linejoin="round" vector-effect="non-scaling-stroke"/>
<path transform="translate(522.4,274) scale(1.0308,0.9966)" d="M0,-19 V-10 A6.5,10 0 0 0 13,-10 V-19 A6.5,10 0 0 0 0,-19 Z" fill="none" stroke="#000" stroke-width="3.7" stroke-linecap="square" stroke-linejoin="round" vector-effect="non-scaling-stroke"/>
<path transform="translate(467.6,407.3) scale(0.9143,1.0069)" d="M0,-22 L7,-29 V0" fill="none" stroke="#000" stroke-width="3.7" stroke-linecap="square" stroke-linejoin="round" vector-effect="non-scaling-stroke"/>
<path transform="translate(484.2,407.3) scale(1.0063,1.0069)" d="M6.5,-29 L0,-6 H16 M11.5,-13.5 V0" fill="none" stroke="#000" stroke-width="3.7" stroke-linecap="square" stroke-linejoin="round" vector-effect="non-scaling-stroke"/>
<path transform="translate(597.8,474) scale(0.9950,1.0000)" d="M10.2,-14.8 m-9.7,0 a9.7,9.6 0 1 0 19.4,0 a9.7,9.6 0 1 0 -19.4,0 M5.5,-0.5 L15.5,-28.5" fill="none" stroke="#000" stroke-width="3.7" stroke-linecap="square" stroke-linejoin="round" vector-effect="non-scaling-stroke"/>
<path transform="translate(627,474) scale(0.9286,1.0000)" d="M0,-22 L7,-29 V0" fill="none" stroke="#000" stroke-width="3.7" stroke-linecap="square" stroke-linejoin="round" vector-effect="non-scaling-stroke"/>
<path transform="translate(643,474) scale(1.0462,1.0000)" d="M10.5,-29 C5,-27 0.3,-21 0.3,-12 V-9 C0.3,-3 3,0 6.5,0 C10,0 13,-3 13,-8.5 C13,-14 10,-17.5 6.5,-17.5 C3.5,-17.5 1.5,-15.5 0.5,-13" fill="none" stroke="#000" stroke-width="3.7" stroke-linecap="square" stroke-linejoin="round" vector-effect="non-scaling-stroke"/>
<path transform="translate(735.2,463.2) scale(1.0000,1.0207)" d="M0,-22 L7,-29 V0" fill="none" stroke="#000" stroke-width="3.7" stroke-linecap="square" stroke-linejoin="round" vector-effect="non-scaling-stroke"/>
<path transform="translate(751.3,463.2) scale(0.9778,1.0207)" d="M0,-22 C0,-26.5 3,-29 6.5,-29 C10,-29 13,-26.5 13,-22 C13,-17 9.5,-13 0,0 H13.5" fill="none" stroke="#000" stroke-width="3.7" stroke-linecap="square" stroke-linejoin="round" vector-effect="non-scaling-stroke"/>
<path transform="translate(773.7,463.2) scale(1.0385,1.0207)" d="M0,-19 V-10 A6.5,10 0 0 0 13,-10 V-19 A6.5,10 0 0 0 0,-19 Z" fill="none" stroke="#000" stroke-width="3.7" stroke-linecap="square" stroke-linejoin="round" vector-effect="non-scaling-stroke"/>
<path transform="translate(711.4,509.9) scale(1.1231,1.0103)" d="M1.5,0 C8,-4 13,-11 13,-20 C13,-26 10,-29 6.5,-29 C3,-29 0,-26 0,-20 C0,-14 3,-11 6.5,-11 C9.5,-11 11.5,-13 12.5,-16" fill="none" stroke="#000" stroke-width="3.7" stroke-linecap="square" stroke-linejoin="round" vector-effect="non-scaling-stroke"/>
<path transform="translate(733.8,509.9) scale(1.0519,1.0103)" d="M13,-29 H1 L0.5,-16.5 C2.5,-18 4.5,-18.5 7,-18.5 C11,-18.5 13.5,-15.5 13.5,-9.5 C13.5,-3.5 11,0 7,0 C4,0 2,-0.5 0.3,-1.2" fill="none" stroke="#000" stroke-width="3.7" stroke-linecap="square" stroke-linejoin="round" vector-effect="non-scaling-stroke"/>
<path transform="translate(777.8,509.2) scale(0.9429,1.0103)" d="M0,-22 L7,-29 V0" fill="none" stroke="#000" stroke-width="3.7" stroke-linecap="square" stroke-linejoin="round" vector-effect="non-scaling-stroke"/>
<path transform="translate(795.7,509.2) scale(0.9250,1.0103)" d="M6.5,-29 L0,-6 H16 M11.5,-13.5 V0" fill="none" stroke="#000" stroke-width="3.7" stroke-linecap="square" stroke-linejoin="round" vector-effect="non-scaling-stroke"/>
<path transform="translate(819.7,509.2) scale(1.0923,1.0103)" d="M6.5,-16 C2.7,-16 0.6,-19 0.6,-22.7 C0.6,-26.6 3,-29 6.5,-29 C10,-29 12.4,-26.6 12.4,-22.7 C12.4,-19 10.3,-16 6.5,-16 C2.2,-16 0,-12.5 0,-8 C0,-3 3,0 6.5,0 C10,0 13,-3 13,-8 C13,-12.5 10.8,-16 6.5,-16 Z" fill="none" stroke="#000" stroke-width="3.7" stroke-linecap="square" stroke-linejoin="round" vector-effect="non-scaling-stroke"/>
<path transform="translate(541.7,585.3) scale(0.9000,1.0069)" d="M0.5,-29 H8 C12,-29 13.5,-26 13.5,-23 C13.5,-19 11,-16.6 7,-16.6 H3 M7,-16.6 C11.5,-16.6 14,-13.5 14,-8.5 C14,-3 11,0 7,0 H0" fill="none" stroke="#000" stroke-width="3.7" stroke-linecap="square" stroke-linejoin="round" vector-effect="non-scaling-stroke"/>
<path transform="translate(565.1,585.3) scale(1.0308,1.0069)" d="M0,-19 V-10 A6.5,10 0 0 0 13,-10 V-19 A6.5,10 0 0 0 0,-19 Z" fill="none" stroke="#000" stroke-width="3.7" stroke-linecap="square" stroke-linejoin="round" vector-effect="non-scaling-stroke"/>
<path transform="translate(591.9,658.5) scale(1.1308,1.0310)" d="M10.5,-29 C5,-27 0.3,-21 0.3,-12 V-9 C0.3,-3 3,0 6.5,0 C10,0 13,-3 13,-8.5 C13,-14 10,-17.5 6.5,-17.5 C3.5,-17.5 1.5,-15.5 0.5,-13" fill="none" stroke="#000" stroke-width="3.7" stroke-linecap="square" stroke-linejoin="round" vector-effect="non-scaling-stroke"/>
<path transform="translate(614.7,658.5) scale(1.0929,1.0310)" d="M0.5,-29 H8 C12,-29 13.5,-26 13.5,-23 C13.5,-19 11,-16.6 7,-16.6 H3 M7,-16.6 C11.5,-16.6 14,-13.5 14,-8.5 C14,-3 11,0 7,0 H0" fill="none" stroke="#000" stroke-width="3.7" stroke-linecap="square" stroke-linejoin="round" vector-effect="non-scaling-stroke"/>
</svg></body></html>
